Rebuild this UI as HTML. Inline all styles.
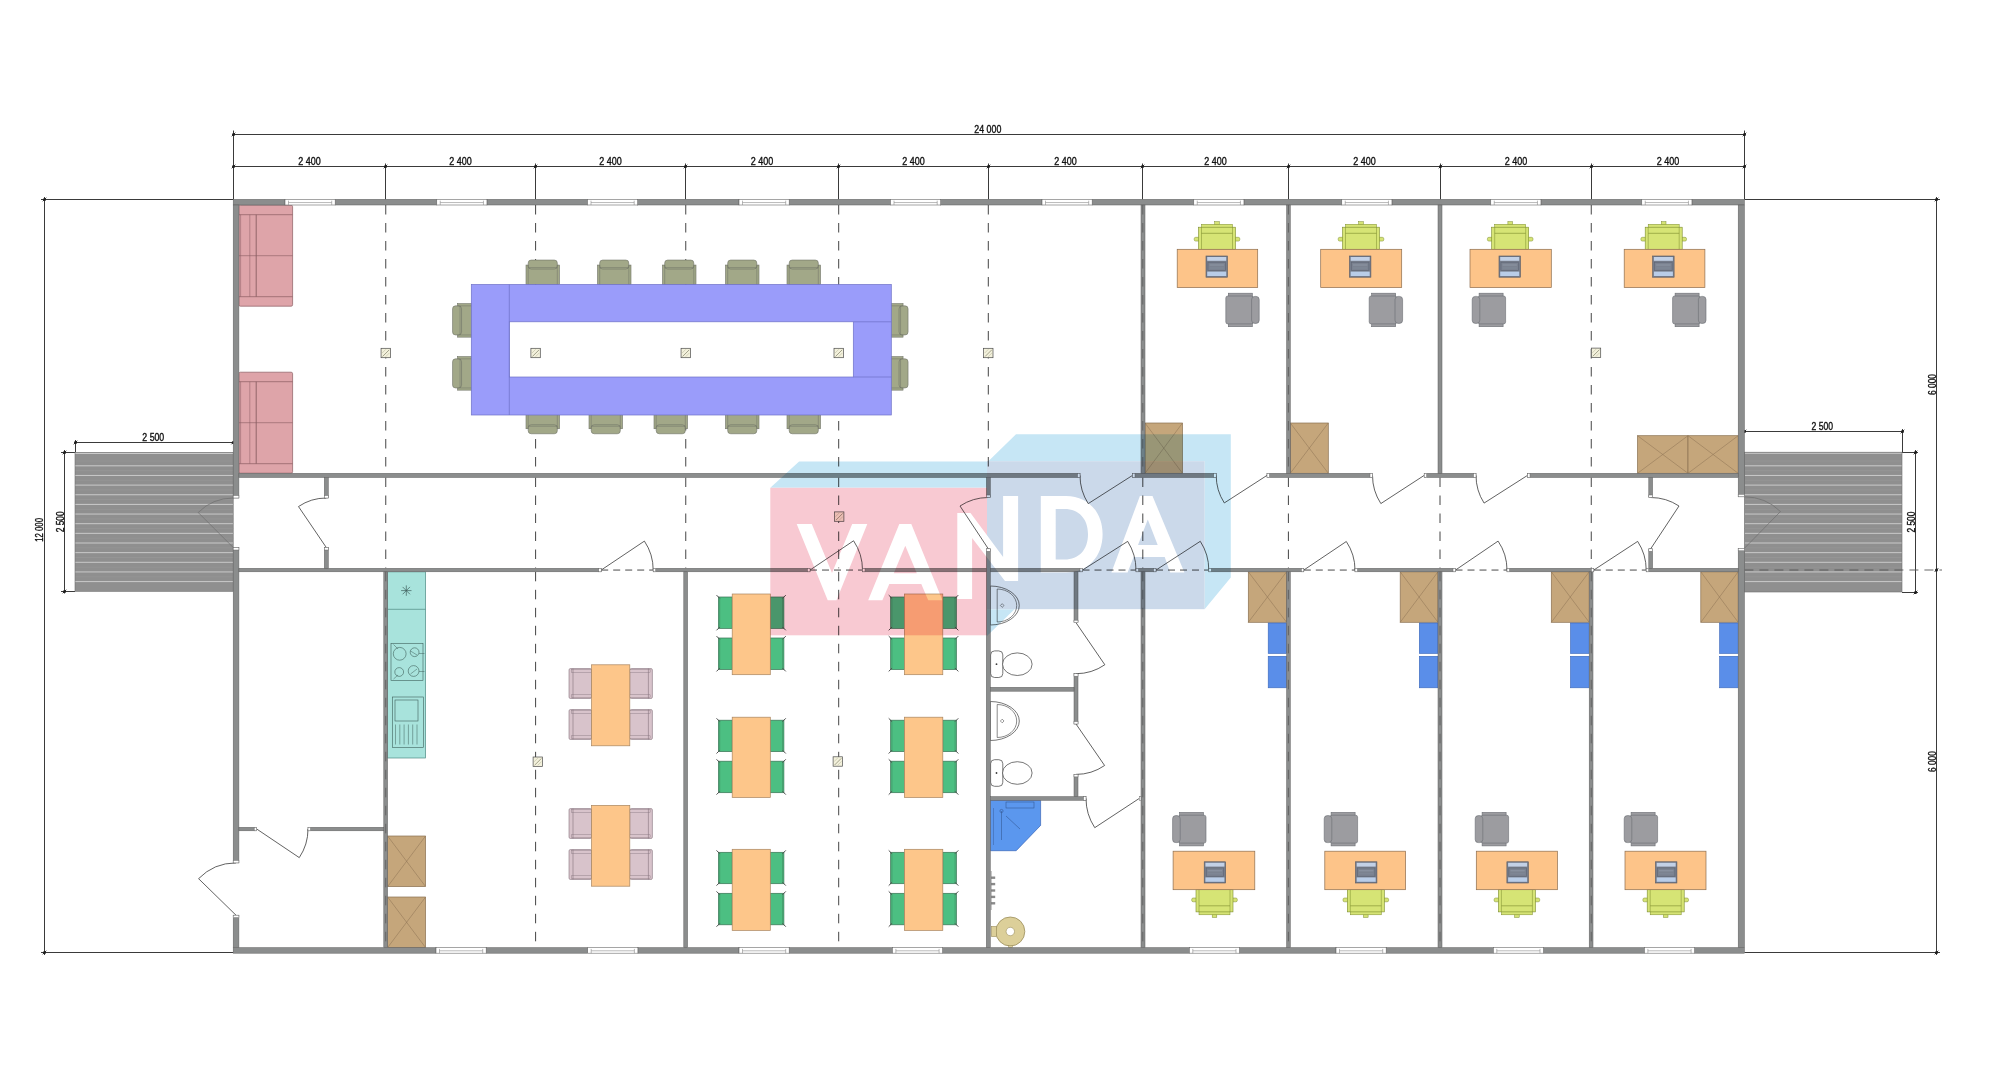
<!DOCTYPE html>
<html><head><meta charset="utf-8"><title>Floor plan</title>
<style>
html,body{margin:0;padding:0;background:#ffffff;}
body{width:2000px;height:1069px;overflow:hidden;}
svg{display:block;font-family:"Liberation Sans",sans-serif;}
.wm{mix-blend-mode:multiply;}
</style></head>
<body>
<svg width="2000" height="1069" viewBox="0 0 2000 1069">
<rect x="0" y="0" width="2000" height="1069" fill="#ffffff"/>
<g id="plan">
<line x1="233.5" y1="134.5" x2="1744.5" y2="134.5" stroke="#3a3a3a" stroke-width="1"/>
<line x1="233.5" y1="130.5" x2="233.5" y2="199.5" stroke="#3a3a3a" stroke-width="1"/>
<line x1="1744.5" y1="130.5" x2="1744.5" y2="199.5" stroke="#3a3a3a" stroke-width="1"/>
<circle cx="233.5" cy="134.5" r="1.5" fill="#1e1e1e"/>
<line x1="231.7" y1="136.3" x2="235.3" y2="132.7" stroke="#1e1e1e" stroke-width="0.9"/>
<circle cx="1744.5" cy="134.5" r="1.5" fill="#1e1e1e"/>
<line x1="1742.7" y1="136.3" x2="1746.3" y2="132.7" stroke="#1e1e1e" stroke-width="0.9"/>
<text x="987.8" y="133" font-size="10" text-anchor="middle" fill="#111" stroke="#111" stroke-width="0.35" textLength="27" lengthAdjust="spacingAndGlyphs">24 000</text>
<line x1="233.5" y1="166.5" x2="1744.5" y2="166.5" stroke="#3a3a3a" stroke-width="1"/>
<circle cx="233.5" cy="166.5" r="1.5" fill="#1e1e1e"/>
<line x1="231.7" y1="168.3" x2="235.3" y2="164.7" stroke="#1e1e1e" stroke-width="0.9"/>
<line x1="385.5" y1="163.5" x2="385.5" y2="199.5" stroke="#3a3a3a" stroke-width="1"/>
<circle cx="385.5" cy="166.5" r="1.5" fill="#1e1e1e"/>
<line x1="383.7" y1="168.3" x2="387.3" y2="164.7" stroke="#1e1e1e" stroke-width="0.9"/>
<line x1="535.5" y1="163.5" x2="535.5" y2="199.5" stroke="#3a3a3a" stroke-width="1"/>
<circle cx="535.5" cy="166.5" r="1.5" fill="#1e1e1e"/>
<line x1="533.7" y1="168.3" x2="537.3" y2="164.7" stroke="#1e1e1e" stroke-width="0.9"/>
<line x1="685.5" y1="163.5" x2="685.5" y2="199.5" stroke="#3a3a3a" stroke-width="1"/>
<circle cx="685.5" cy="166.5" r="1.5" fill="#1e1e1e"/>
<line x1="683.7" y1="168.3" x2="687.3" y2="164.7" stroke="#1e1e1e" stroke-width="0.9"/>
<line x1="838.5" y1="163.5" x2="838.5" y2="199.5" stroke="#3a3a3a" stroke-width="1"/>
<circle cx="838.5" cy="166.5" r="1.5" fill="#1e1e1e"/>
<line x1="836.7" y1="168.3" x2="840.3" y2="164.7" stroke="#1e1e1e" stroke-width="0.9"/>
<line x1="988.5" y1="163.5" x2="988.5" y2="199.5" stroke="#3a3a3a" stroke-width="1"/>
<circle cx="988.5" cy="166.5" r="1.5" fill="#1e1e1e"/>
<line x1="986.7" y1="168.3" x2="990.3" y2="164.7" stroke="#1e1e1e" stroke-width="0.9"/>
<line x1="1142.5" y1="163.5" x2="1142.5" y2="199.5" stroke="#3a3a3a" stroke-width="1"/>
<circle cx="1142.5" cy="166.5" r="1.5" fill="#1e1e1e"/>
<line x1="1140.7" y1="168.3" x2="1144.3" y2="164.7" stroke="#1e1e1e" stroke-width="0.9"/>
<line x1="1288.5" y1="163.5" x2="1288.5" y2="199.5" stroke="#3a3a3a" stroke-width="1"/>
<circle cx="1288.5" cy="166.5" r="1.5" fill="#1e1e1e"/>
<line x1="1286.7" y1="168.3" x2="1290.3" y2="164.7" stroke="#1e1e1e" stroke-width="0.9"/>
<line x1="1440.5" y1="163.5" x2="1440.5" y2="199.5" stroke="#3a3a3a" stroke-width="1"/>
<circle cx="1440.5" cy="166.5" r="1.5" fill="#1e1e1e"/>
<line x1="1438.7" y1="168.3" x2="1442.3" y2="164.7" stroke="#1e1e1e" stroke-width="0.9"/>
<line x1="1591.5" y1="163.5" x2="1591.5" y2="199.5" stroke="#3a3a3a" stroke-width="1"/>
<circle cx="1591.5" cy="166.5" r="1.5" fill="#1e1e1e"/>
<line x1="1589.7" y1="168.3" x2="1593.3" y2="164.7" stroke="#1e1e1e" stroke-width="0.9"/>
<circle cx="1744.5" cy="166.5" r="1.5" fill="#1e1e1e"/>
<line x1="1742.7" y1="168.3" x2="1746.3" y2="164.7" stroke="#1e1e1e" stroke-width="0.9"/>
<text x="309.5" y="165.4" font-size="10" text-anchor="middle" fill="#111" stroke="#111" stroke-width="0.35" textLength="22.5" lengthAdjust="spacingAndGlyphs">2 400</text>
<text x="460.5" y="165.4" font-size="10" text-anchor="middle" fill="#111" stroke="#111" stroke-width="0.35" textLength="22.5" lengthAdjust="spacingAndGlyphs">2 400</text>
<text x="610.5" y="165.4" font-size="10" text-anchor="middle" fill="#111" stroke="#111" stroke-width="0.35" textLength="22.5" lengthAdjust="spacingAndGlyphs">2 400</text>
<text x="762" y="165.4" font-size="10" text-anchor="middle" fill="#111" stroke="#111" stroke-width="0.35" textLength="22.5" lengthAdjust="spacingAndGlyphs">2 400</text>
<text x="913.5" y="165.4" font-size="10" text-anchor="middle" fill="#111" stroke="#111" stroke-width="0.35" textLength="22.5" lengthAdjust="spacingAndGlyphs">2 400</text>
<text x="1065.5" y="165.4" font-size="10" text-anchor="middle" fill="#111" stroke="#111" stroke-width="0.35" textLength="22.5" lengthAdjust="spacingAndGlyphs">2 400</text>
<text x="1215.5" y="165.4" font-size="10" text-anchor="middle" fill="#111" stroke="#111" stroke-width="0.35" textLength="22.5" lengthAdjust="spacingAndGlyphs">2 400</text>
<text x="1364.5" y="165.4" font-size="10" text-anchor="middle" fill="#111" stroke="#111" stroke-width="0.35" textLength="22.5" lengthAdjust="spacingAndGlyphs">2 400</text>
<text x="1516" y="165.4" font-size="10" text-anchor="middle" fill="#111" stroke="#111" stroke-width="0.35" textLength="22.5" lengthAdjust="spacingAndGlyphs">2 400</text>
<text x="1668" y="165.4" font-size="10" text-anchor="middle" fill="#111" stroke="#111" stroke-width="0.35" textLength="22.5" lengthAdjust="spacingAndGlyphs">2 400</text>
<line x1="44.5" y1="197" x2="44.5" y2="955" stroke="#3a3a3a" stroke-width="1"/>
<line x1="41" y1="199.5" x2="233.2" y2="199.5" stroke="#3a3a3a" stroke-width="1"/>
<line x1="41" y1="952.5" x2="233.2" y2="952.5" stroke="#3a3a3a" stroke-width="1"/>
<circle cx="44.5" cy="199.5" r="1.5" fill="#1e1e1e"/>
<line x1="42.7" y1="201.3" x2="46.3" y2="197.7" stroke="#1e1e1e" stroke-width="0.9"/>
<circle cx="44.5" cy="952.5" r="1.5" fill="#1e1e1e"/>
<line x1="42.7" y1="954.3" x2="46.3" y2="950.7" stroke="#1e1e1e" stroke-width="0.9"/>
<text x="0" y="0" font-size="10" text-anchor="middle" fill="#111" stroke="#111" stroke-width="0.35" textLength="23.8" lengthAdjust="spacingAndGlyphs" transform="translate(43.4 529.9) rotate(-90)">12 000</text>
<line x1="75.5" y1="442.5" x2="233.2" y2="442.5" stroke="#3a3a3a" stroke-width="1"/>
<line x1="75.5" y1="440" x2="75.5" y2="452.4" stroke="#3a3a3a" stroke-width="1"/>
<circle cx="75.5" cy="442.5" r="1.5" fill="#1e1e1e"/>
<line x1="73.7" y1="444.3" x2="77.3" y2="440.7" stroke="#1e1e1e" stroke-width="0.9"/>
<circle cx="233.2" cy="442.5" r="1.5" fill="#1e1e1e"/>
<line x1="231.4" y1="444.3" x2="235" y2="440.7" stroke="#1e1e1e" stroke-width="0.9"/>
<text x="153.3" y="441" font-size="10" text-anchor="middle" fill="#111" stroke="#111" stroke-width="0.35" textLength="21.9" lengthAdjust="spacingAndGlyphs">2 500</text>
<line x1="64.5" y1="450" x2="64.5" y2="593.5" stroke="#3a3a3a" stroke-width="1"/>
<line x1="61" y1="452.5" x2="75" y2="452.5" stroke="#3a3a3a" stroke-width="1"/>
<line x1="61" y1="591.5" x2="75" y2="591.5" stroke="#3a3a3a" stroke-width="1"/>
<circle cx="64.5" cy="452.5" r="1.5" fill="#1e1e1e"/>
<line x1="62.7" y1="454.3" x2="66.3" y2="450.7" stroke="#1e1e1e" stroke-width="0.9"/>
<circle cx="64.5" cy="591.5" r="1.5" fill="#1e1e1e"/>
<line x1="62.7" y1="593.3" x2="66.3" y2="589.7" stroke="#1e1e1e" stroke-width="0.9"/>
<text x="0" y="0" font-size="10" text-anchor="middle" fill="#111" stroke="#111" stroke-width="0.35" textLength="21.1" lengthAdjust="spacingAndGlyphs" transform="translate(63.9 521.8) rotate(-90)">2 500</text>
<line x1="1936.5" y1="197" x2="1936.5" y2="955" stroke="#3a3a3a" stroke-width="1"/>
<line x1="1744.4" y1="199.5" x2="1940" y2="199.5" stroke="#3a3a3a" stroke-width="1"/>
<line x1="1744.4" y1="952.5" x2="1940" y2="952.5" stroke="#3a3a3a" stroke-width="1"/>
<circle cx="1936.5" cy="199.5" r="1.5" fill="#1e1e1e"/>
<line x1="1934.7" y1="201.3" x2="1938.3" y2="197.7" stroke="#1e1e1e" stroke-width="0.9"/>
<circle cx="1936.5" cy="952.5" r="1.5" fill="#1e1e1e"/>
<line x1="1934.7" y1="954.3" x2="1938.3" y2="950.7" stroke="#1e1e1e" stroke-width="0.9"/>
<circle cx="1936.5" cy="570" r="1.5" fill="#1e1e1e"/>
<line x1="1934.7" y1="571.8" x2="1938.3" y2="568.2" stroke="#1e1e1e" stroke-width="0.9"/>
<text x="0" y="0" font-size="10" text-anchor="middle" fill="#111" stroke="#111" stroke-width="0.35" textLength="21" lengthAdjust="spacingAndGlyphs" transform="translate(1936 384.5) rotate(-90)">6 000</text>
<text x="0" y="0" font-size="10" text-anchor="middle" fill="#111" stroke="#111" stroke-width="0.35" textLength="20.8" lengthAdjust="spacingAndGlyphs" transform="translate(1936 761.6) rotate(-90)">6 000</text>
<line x1="1744.4" y1="431.5" x2="1902.5" y2="431.5" stroke="#3a3a3a" stroke-width="1"/>
<line x1="1902.5" y1="429" x2="1902.5" y2="452.2" stroke="#3a3a3a" stroke-width="1"/>
<circle cx="1744.5" cy="431.5" r="1.5" fill="#1e1e1e"/>
<line x1="1742.7" y1="433.3" x2="1746.3" y2="429.7" stroke="#1e1e1e" stroke-width="0.9"/>
<circle cx="1902.5" cy="431.5" r="1.5" fill="#1e1e1e"/>
<line x1="1900.7" y1="433.3" x2="1904.3" y2="429.7" stroke="#1e1e1e" stroke-width="0.9"/>
<text x="1822.3" y="430" font-size="10" text-anchor="middle" fill="#111" stroke="#111" stroke-width="0.35" textLength="21.5" lengthAdjust="spacingAndGlyphs">2 500</text>
<line x1="1915.5" y1="450" x2="1915.5" y2="594" stroke="#3a3a3a" stroke-width="1"/>
<line x1="1902" y1="452.5" x2="1918" y2="452.5" stroke="#3a3a3a" stroke-width="1"/>
<line x1="1902" y1="592.5" x2="1918" y2="592.5" stroke="#3a3a3a" stroke-width="1"/>
<circle cx="1915.5" cy="452.5" r="1.5" fill="#1e1e1e"/>
<line x1="1913.7" y1="454.3" x2="1917.3" y2="450.7" stroke="#1e1e1e" stroke-width="0.9"/>
<circle cx="1915.5" cy="592.5" r="1.5" fill="#1e1e1e"/>
<line x1="1913.7" y1="594.3" x2="1917.3" y2="590.7" stroke="#1e1e1e" stroke-width="0.9"/>
<text x="0" y="0" font-size="10" text-anchor="middle" fill="#111" stroke="#111" stroke-width="0.35" textLength="21" lengthAdjust="spacingAndGlyphs" transform="translate(1914.8 522.1) rotate(-90)">2 500</text>
<rect x="75" y="452.4" width="158.2" height="138.9" fill="#8f8f8f" stroke="none" stroke-width="0.6"/>
<line x1="75" y1="453.4" x2="233.2" y2="453.4" stroke="#d2d2d2" stroke-width="1"/>
<line x1="75" y1="465.8" x2="233.2" y2="465.8" stroke="#d0d0d0" stroke-width="0.9"/>
<line x1="75" y1="461" x2="233.2" y2="461" stroke="#989898" stroke-width="0.6"/>
<line x1="75" y1="475.45" x2="233.2" y2="475.45" stroke="#d0d0d0" stroke-width="0.9"/>
<line x1="75" y1="470.65" x2="233.2" y2="470.65" stroke="#989898" stroke-width="0.6"/>
<line x1="75" y1="485.1" x2="233.2" y2="485.1" stroke="#d0d0d0" stroke-width="0.9"/>
<line x1="75" y1="480.3" x2="233.2" y2="480.3" stroke="#989898" stroke-width="0.6"/>
<line x1="75" y1="494.75" x2="233.2" y2="494.75" stroke="#d0d0d0" stroke-width="0.9"/>
<line x1="75" y1="489.95" x2="233.2" y2="489.95" stroke="#989898" stroke-width="0.6"/>
<line x1="75" y1="504.4" x2="233.2" y2="504.4" stroke="#d0d0d0" stroke-width="0.9"/>
<line x1="75" y1="499.6" x2="233.2" y2="499.6" stroke="#989898" stroke-width="0.6"/>
<line x1="75" y1="514.05" x2="233.2" y2="514.05" stroke="#d0d0d0" stroke-width="0.9"/>
<line x1="75" y1="509.25" x2="233.2" y2="509.25" stroke="#989898" stroke-width="0.6"/>
<line x1="75" y1="523.7" x2="233.2" y2="523.7" stroke="#d0d0d0" stroke-width="0.9"/>
<line x1="75" y1="518.9" x2="233.2" y2="518.9" stroke="#989898" stroke-width="0.6"/>
<line x1="75" y1="533.35" x2="233.2" y2="533.35" stroke="#d0d0d0" stroke-width="0.9"/>
<line x1="75" y1="528.55" x2="233.2" y2="528.55" stroke="#989898" stroke-width="0.6"/>
<line x1="75" y1="543" x2="233.2" y2="543" stroke="#d0d0d0" stroke-width="0.9"/>
<line x1="75" y1="538.2" x2="233.2" y2="538.2" stroke="#989898" stroke-width="0.6"/>
<line x1="75" y1="552.65" x2="233.2" y2="552.65" stroke="#d0d0d0" stroke-width="0.9"/>
<line x1="75" y1="547.85" x2="233.2" y2="547.85" stroke="#989898" stroke-width="0.6"/>
<line x1="75" y1="562.3" x2="233.2" y2="562.3" stroke="#d0d0d0" stroke-width="0.9"/>
<line x1="75" y1="557.5" x2="233.2" y2="557.5" stroke="#989898" stroke-width="0.6"/>
<line x1="75" y1="571.95" x2="233.2" y2="571.95" stroke="#d0d0d0" stroke-width="0.9"/>
<line x1="75" y1="567.15" x2="233.2" y2="567.15" stroke="#989898" stroke-width="0.6"/>
<line x1="75" y1="581.6" x2="233.2" y2="581.6" stroke="#d0d0d0" stroke-width="0.9"/>
<line x1="75" y1="576.8" x2="233.2" y2="576.8" stroke="#989898" stroke-width="0.6"/>
<rect x="75" y="452.4" width="158.2" height="138.9" fill="none" stroke="#6f6f6f" stroke-width="0.6"/>
<rect x="1744.4" y="452.2" width="157.6" height="139.8" fill="#8f8f8f" stroke="none" stroke-width="0.6"/>
<line x1="1744.4" y1="453.2" x2="1902" y2="453.2" stroke="#d2d2d2" stroke-width="1"/>
<line x1="1744.4" y1="465.8" x2="1902" y2="465.8" stroke="#d0d0d0" stroke-width="0.9"/>
<line x1="1744.4" y1="461" x2="1902" y2="461" stroke="#989898" stroke-width="0.6"/>
<line x1="1744.4" y1="475.45" x2="1902" y2="475.45" stroke="#d0d0d0" stroke-width="0.9"/>
<line x1="1744.4" y1="470.65" x2="1902" y2="470.65" stroke="#989898" stroke-width="0.6"/>
<line x1="1744.4" y1="485.1" x2="1902" y2="485.1" stroke="#d0d0d0" stroke-width="0.9"/>
<line x1="1744.4" y1="480.3" x2="1902" y2="480.3" stroke="#989898" stroke-width="0.6"/>
<line x1="1744.4" y1="494.75" x2="1902" y2="494.75" stroke="#d0d0d0" stroke-width="0.9"/>
<line x1="1744.4" y1="489.95" x2="1902" y2="489.95" stroke="#989898" stroke-width="0.6"/>
<line x1="1744.4" y1="504.4" x2="1902" y2="504.4" stroke="#d0d0d0" stroke-width="0.9"/>
<line x1="1744.4" y1="499.6" x2="1902" y2="499.6" stroke="#989898" stroke-width="0.6"/>
<line x1="1744.4" y1="514.05" x2="1902" y2="514.05" stroke="#d0d0d0" stroke-width="0.9"/>
<line x1="1744.4" y1="509.25" x2="1902" y2="509.25" stroke="#989898" stroke-width="0.6"/>
<line x1="1744.4" y1="523.7" x2="1902" y2="523.7" stroke="#d0d0d0" stroke-width="0.9"/>
<line x1="1744.4" y1="518.9" x2="1902" y2="518.9" stroke="#989898" stroke-width="0.6"/>
<line x1="1744.4" y1="533.35" x2="1902" y2="533.35" stroke="#d0d0d0" stroke-width="0.9"/>
<line x1="1744.4" y1="528.55" x2="1902" y2="528.55" stroke="#989898" stroke-width="0.6"/>
<line x1="1744.4" y1="543" x2="1902" y2="543" stroke="#d0d0d0" stroke-width="0.9"/>
<line x1="1744.4" y1="538.2" x2="1902" y2="538.2" stroke="#989898" stroke-width="0.6"/>
<line x1="1744.4" y1="552.65" x2="1902" y2="552.65" stroke="#d0d0d0" stroke-width="0.9"/>
<line x1="1744.4" y1="547.85" x2="1902" y2="547.85" stroke="#989898" stroke-width="0.6"/>
<line x1="1744.4" y1="562.3" x2="1902" y2="562.3" stroke="#d0d0d0" stroke-width="0.9"/>
<line x1="1744.4" y1="557.5" x2="1902" y2="557.5" stroke="#989898" stroke-width="0.6"/>
<line x1="1744.4" y1="571.95" x2="1902" y2="571.95" stroke="#d0d0d0" stroke-width="0.9"/>
<line x1="1744.4" y1="567.15" x2="1902" y2="567.15" stroke="#989898" stroke-width="0.6"/>
<line x1="1744.4" y1="581.6" x2="1902" y2="581.6" stroke="#d0d0d0" stroke-width="0.9"/>
<line x1="1744.4" y1="576.8" x2="1902" y2="576.8" stroke="#989898" stroke-width="0.6"/>
<rect x="1744.4" y="452.2" width="157.6" height="139.8" fill="none" stroke="#6f6f6f" stroke-width="0.6"/>
<line x1="1744.4" y1="570" x2="1942" y2="570" stroke="#555" stroke-width="0.9" stroke-dasharray="9 6"/>
<line x1="385.75" y1="205" x2="385.75" y2="473.3" stroke="#444444" stroke-width="1" stroke-dasharray="9.5 8.5"/>
<line x1="535.6" y1="205" x2="535.6" y2="473.3" stroke="#444444" stroke-width="1" stroke-dasharray="9.5 8.5"/>
<line x1="685.75" y1="205" x2="685.75" y2="473.3" stroke="#444444" stroke-width="1" stroke-dasharray="9.5 8.5"/>
<line x1="838.7" y1="205" x2="838.7" y2="473.3" stroke="#444444" stroke-width="1" stroke-dasharray="9.5 8.5"/>
<line x1="988.3" y1="205" x2="988.3" y2="473.3" stroke="#444444" stroke-width="1" stroke-dasharray="9.5 8.5"/>
<line x1="385.75" y1="477.5" x2="385.75" y2="568.3" stroke="#444444" stroke-width="1" stroke-dasharray="9.5 8.5"/>
<line x1="535.6" y1="477.5" x2="535.6" y2="568.3" stroke="#444444" stroke-width="1" stroke-dasharray="9.5 8.5"/>
<line x1="685.75" y1="477.5" x2="685.75" y2="568.3" stroke="#444444" stroke-width="1" stroke-dasharray="9.5 8.5"/>
<line x1="838.7" y1="477.5" x2="838.7" y2="568.3" stroke="#444444" stroke-width="1" stroke-dasharray="9.5 8.5"/>
<line x1="1142.8" y1="477.5" x2="1142.8" y2="568.3" stroke="#444444" stroke-width="1" stroke-dasharray="9.5 8.5"/>
<line x1="1288.4" y1="477.5" x2="1288.4" y2="568.3" stroke="#444444" stroke-width="1" stroke-dasharray="9.5 8.5"/>
<line x1="1440" y1="477.5" x2="1440" y2="568.3" stroke="#444444" stroke-width="1" stroke-dasharray="9.5 8.5"/>
<line x1="1591.25" y1="477.5" x2="1591.25" y2="568.3" stroke="#444444" stroke-width="1" stroke-dasharray="9.5 8.5"/>
<line x1="1591.25" y1="205" x2="1591.25" y2="473.3" stroke="#444444" stroke-width="1" stroke-dasharray="9.5 8.5"/>
<line x1="535.6" y1="571.8" x2="535.6" y2="947.5" stroke="#444444" stroke-width="1" stroke-dasharray="9.5 8.5"/>
<line x1="838.7" y1="571.8" x2="838.7" y2="947.5" stroke="#444444" stroke-width="1" stroke-dasharray="9.5 8.5"/>
<g transform="translate(542.75 272.3)">
<rect x="-16.75" y="-7.25" width="33.5" height="19.5" fill="#a2a888" stroke="#6f7266" stroke-width="0.6"/>
<rect x="-14.55" y="-12.25" width="29.1" height="9" fill="#a2a888" stroke="#6f7266" stroke-width="0.6" rx="3"/>
<line x1="-14.55" y1="-7.25" x2="-14.55" y2="12.25" stroke="#6f7266" stroke-width="0.5"/>
<line x1="14.55" y1="-7.25" x2="14.55" y2="12.25" stroke="#6f7266" stroke-width="0.5"/>
<line x1="-14.55" y1="-4.75" x2="14.55" y2="-4.75" stroke="#6f7266" stroke-width="0.5"/>
</g>
<g transform="translate(614.25 272.3)">
<rect x="-16.75" y="-7.25" width="33.5" height="19.5" fill="#a2a888" stroke="#6f7266" stroke-width="0.6"/>
<rect x="-14.55" y="-12.25" width="29.1" height="9" fill="#a2a888" stroke="#6f7266" stroke-width="0.6" rx="3"/>
<line x1="-14.55" y1="-7.25" x2="-14.55" y2="12.25" stroke="#6f7266" stroke-width="0.5"/>
<line x1="14.55" y1="-7.25" x2="14.55" y2="12.25" stroke="#6f7266" stroke-width="0.5"/>
<line x1="-14.55" y1="-4.75" x2="14.55" y2="-4.75" stroke="#6f7266" stroke-width="0.5"/>
</g>
<g transform="translate(679.25 272.3)">
<rect x="-16.75" y="-7.25" width="33.5" height="19.5" fill="#a2a888" stroke="#6f7266" stroke-width="0.6"/>
<rect x="-14.55" y="-12.25" width="29.1" height="9" fill="#a2a888" stroke="#6f7266" stroke-width="0.6" rx="3"/>
<line x1="-14.55" y1="-7.25" x2="-14.55" y2="12.25" stroke="#6f7266" stroke-width="0.5"/>
<line x1="14.55" y1="-7.25" x2="14.55" y2="12.25" stroke="#6f7266" stroke-width="0.5"/>
<line x1="-14.55" y1="-4.75" x2="14.55" y2="-4.75" stroke="#6f7266" stroke-width="0.5"/>
</g>
<g transform="translate(742.25 272.3)">
<rect x="-16.75" y="-7.25" width="33.5" height="19.5" fill="#a2a888" stroke="#6f7266" stroke-width="0.6"/>
<rect x="-14.55" y="-12.25" width="29.1" height="9" fill="#a2a888" stroke="#6f7266" stroke-width="0.6" rx="3"/>
<line x1="-14.55" y1="-7.25" x2="-14.55" y2="12.25" stroke="#6f7266" stroke-width="0.5"/>
<line x1="14.55" y1="-7.25" x2="14.55" y2="12.25" stroke="#6f7266" stroke-width="0.5"/>
<line x1="-14.55" y1="-4.75" x2="14.55" y2="-4.75" stroke="#6f7266" stroke-width="0.5"/>
</g>
<g transform="translate(803.75 272.3)">
<rect x="-16.75" y="-7.25" width="33.5" height="19.5" fill="#a2a888" stroke="#6f7266" stroke-width="0.6"/>
<rect x="-14.55" y="-12.25" width="29.1" height="9" fill="#a2a888" stroke="#6f7266" stroke-width="0.6" rx="3"/>
<line x1="-14.55" y1="-7.25" x2="-14.55" y2="12.25" stroke="#6f7266" stroke-width="0.5"/>
<line x1="14.55" y1="-7.25" x2="14.55" y2="12.25" stroke="#6f7266" stroke-width="0.5"/>
<line x1="-14.55" y1="-4.75" x2="14.55" y2="-4.75" stroke="#6f7266" stroke-width="0.5"/>
</g>
<g transform="translate(542.75 421.5) rotate(180)">
<rect x="-16.75" y="-7.25" width="33.5" height="19.5" fill="#a2a888" stroke="#6f7266" stroke-width="0.6"/>
<rect x="-14.55" y="-12.25" width="29.1" height="9" fill="#a2a888" stroke="#6f7266" stroke-width="0.6" rx="3"/>
<line x1="-14.55" y1="-7.25" x2="-14.55" y2="12.25" stroke="#6f7266" stroke-width="0.5"/>
<line x1="14.55" y1="-7.25" x2="14.55" y2="12.25" stroke="#6f7266" stroke-width="0.5"/>
<line x1="-14.55" y1="-4.75" x2="14.55" y2="-4.75" stroke="#6f7266" stroke-width="0.5"/>
</g>
<g transform="translate(605.75 421.5) rotate(180)">
<rect x="-16.75" y="-7.25" width="33.5" height="19.5" fill="#a2a888" stroke="#6f7266" stroke-width="0.6"/>
<rect x="-14.55" y="-12.25" width="29.1" height="9" fill="#a2a888" stroke="#6f7266" stroke-width="0.6" rx="3"/>
<line x1="-14.55" y1="-7.25" x2="-14.55" y2="12.25" stroke="#6f7266" stroke-width="0.5"/>
<line x1="14.55" y1="-7.25" x2="14.55" y2="12.25" stroke="#6f7266" stroke-width="0.5"/>
<line x1="-14.55" y1="-4.75" x2="14.55" y2="-4.75" stroke="#6f7266" stroke-width="0.5"/>
</g>
<g transform="translate(670.75 421.5) rotate(180)">
<rect x="-16.75" y="-7.25" width="33.5" height="19.5" fill="#a2a888" stroke="#6f7266" stroke-width="0.6"/>
<rect x="-14.55" y="-12.25" width="29.1" height="9" fill="#a2a888" stroke="#6f7266" stroke-width="0.6" rx="3"/>
<line x1="-14.55" y1="-7.25" x2="-14.55" y2="12.25" stroke="#6f7266" stroke-width="0.5"/>
<line x1="14.55" y1="-7.25" x2="14.55" y2="12.25" stroke="#6f7266" stroke-width="0.5"/>
<line x1="-14.55" y1="-4.75" x2="14.55" y2="-4.75" stroke="#6f7266" stroke-width="0.5"/>
</g>
<g transform="translate(742.25 421.5) rotate(180)">
<rect x="-16.75" y="-7.25" width="33.5" height="19.5" fill="#a2a888" stroke="#6f7266" stroke-width="0.6"/>
<rect x="-14.55" y="-12.25" width="29.1" height="9" fill="#a2a888" stroke="#6f7266" stroke-width="0.6" rx="3"/>
<line x1="-14.55" y1="-7.25" x2="-14.55" y2="12.25" stroke="#6f7266" stroke-width="0.5"/>
<line x1="14.55" y1="-7.25" x2="14.55" y2="12.25" stroke="#6f7266" stroke-width="0.5"/>
<line x1="-14.55" y1="-4.75" x2="14.55" y2="-4.75" stroke="#6f7266" stroke-width="0.5"/>
</g>
<g transform="translate(803.75 421.5) rotate(180)">
<rect x="-16.75" y="-7.25" width="33.5" height="19.5" fill="#a2a888" stroke="#6f7266" stroke-width="0.6"/>
<rect x="-14.55" y="-12.25" width="29.1" height="9" fill="#a2a888" stroke="#6f7266" stroke-width="0.6" rx="3"/>
<line x1="-14.55" y1="-7.25" x2="-14.55" y2="12.25" stroke="#6f7266" stroke-width="0.5"/>
<line x1="14.55" y1="-7.25" x2="14.55" y2="12.25" stroke="#6f7266" stroke-width="0.5"/>
<line x1="-14.55" y1="-4.75" x2="14.55" y2="-4.75" stroke="#6f7266" stroke-width="0.5"/>
</g>
<g transform="translate(464.8 320.4) rotate(-90)">
<rect x="-16.75" y="-7.25" width="33.5" height="19.5" fill="#a2a888" stroke="#6f7266" stroke-width="0.6"/>
<rect x="-14.55" y="-12.25" width="29.1" height="9" fill="#a2a888" stroke="#6f7266" stroke-width="0.6" rx="3"/>
<line x1="-14.55" y1="-7.25" x2="-14.55" y2="12.25" stroke="#6f7266" stroke-width="0.5"/>
<line x1="14.55" y1="-7.25" x2="14.55" y2="12.25" stroke="#6f7266" stroke-width="0.5"/>
<line x1="-14.55" y1="-4.75" x2="14.55" y2="-4.75" stroke="#6f7266" stroke-width="0.5"/>
</g>
<g transform="translate(895.8 320.4) rotate(90)">
<rect x="-16.75" y="-7.25" width="33.5" height="19.5" fill="#a2a888" stroke="#6f7266" stroke-width="0.6"/>
<rect x="-14.55" y="-12.25" width="29.1" height="9" fill="#a2a888" stroke="#6f7266" stroke-width="0.6" rx="3"/>
<line x1="-14.55" y1="-7.25" x2="-14.55" y2="12.25" stroke="#6f7266" stroke-width="0.5"/>
<line x1="14.55" y1="-7.25" x2="14.55" y2="12.25" stroke="#6f7266" stroke-width="0.5"/>
<line x1="-14.55" y1="-4.75" x2="14.55" y2="-4.75" stroke="#6f7266" stroke-width="0.5"/>
</g>
<g transform="translate(464.8 373.4) rotate(-90)">
<rect x="-16.75" y="-7.25" width="33.5" height="19.5" fill="#a2a888" stroke="#6f7266" stroke-width="0.6"/>
<rect x="-14.55" y="-12.25" width="29.1" height="9" fill="#a2a888" stroke="#6f7266" stroke-width="0.6" rx="3"/>
<line x1="-14.55" y1="-7.25" x2="-14.55" y2="12.25" stroke="#6f7266" stroke-width="0.5"/>
<line x1="14.55" y1="-7.25" x2="14.55" y2="12.25" stroke="#6f7266" stroke-width="0.5"/>
<line x1="-14.55" y1="-4.75" x2="14.55" y2="-4.75" stroke="#6f7266" stroke-width="0.5"/>
</g>
<g transform="translate(895.8 373.4) rotate(90)">
<rect x="-16.75" y="-7.25" width="33.5" height="19.5" fill="#a2a888" stroke="#6f7266" stroke-width="0.6"/>
<rect x="-14.55" y="-12.25" width="29.1" height="9" fill="#a2a888" stroke="#6f7266" stroke-width="0.6" rx="3"/>
<line x1="-14.55" y1="-7.25" x2="-14.55" y2="12.25" stroke="#6f7266" stroke-width="0.5"/>
<line x1="14.55" y1="-7.25" x2="14.55" y2="12.25" stroke="#6f7266" stroke-width="0.5"/>
<line x1="-14.55" y1="-4.75" x2="14.55" y2="-4.75" stroke="#6f7266" stroke-width="0.5"/>
</g>
<rect x="471.3" y="284.5" width="420" height="130.5" fill="#9a9cfa" stroke="#6d70c6" stroke-width="0.7"/>
<rect x="509.3" y="321.8" width="344" height="55.2" fill="#ffffff" stroke="#6d70c6" stroke-width="0.7"/>
<line x1="509.3" y1="284.5" x2="509.3" y2="415" stroke="#6d70c6" stroke-width="0.7"/>
<line x1="853.3" y1="321.8" x2="891.3" y2="321.8" stroke="#6d70c6" stroke-width="0.7"/>
<line x1="853.3" y1="377" x2="891.3" y2="377" stroke="#6d70c6" stroke-width="0.7"/>
<rect x="238.9" y="205.2" width="53.7" height="101" fill="#dea4a9" stroke="#8a5d62" stroke-width="0.7" rx="1.5"/>
<line x1="238.9" y1="214.7" x2="292.6" y2="214.7" stroke="#8a5d62" stroke-width="0.7"/>
<line x1="238.9" y1="296.7" x2="292.6" y2="296.7" stroke="#8a5d62" stroke-width="0.7"/>
<line x1="240.6" y1="214.7" x2="240.6" y2="296.7" stroke="#8a5d62" stroke-width="0.5"/>
<line x1="249.8" y1="214.7" x2="249.8" y2="296.7" stroke="#8a5d62" stroke-width="0.5"/>
<line x1="256.2" y1="214.7" x2="256.2" y2="296.7" stroke="#8a5d62" stroke-width="0.9"/>
<line x1="238.9" y1="255.7" x2="292.6" y2="255.7" stroke="#8a5d62" stroke-width="0.6"/>
<rect x="238.9" y="372.2" width="53.7" height="101" fill="#dea4a9" stroke="#8a5d62" stroke-width="0.7" rx="1.5"/>
<line x1="238.9" y1="381.7" x2="292.6" y2="381.7" stroke="#8a5d62" stroke-width="0.7"/>
<line x1="238.9" y1="463.7" x2="292.6" y2="463.7" stroke="#8a5d62" stroke-width="0.7"/>
<line x1="240.6" y1="381.7" x2="240.6" y2="463.7" stroke="#8a5d62" stroke-width="0.5"/>
<line x1="249.8" y1="381.7" x2="249.8" y2="463.7" stroke="#8a5d62" stroke-width="0.5"/>
<line x1="256.2" y1="381.7" x2="256.2" y2="463.7" stroke="#8a5d62" stroke-width="0.9"/>
<line x1="238.9" y1="422.7" x2="292.6" y2="422.7" stroke="#8a5d62" stroke-width="0.6"/>
<g transform="translate(1198.5 221.7)">
<rect x="-4.3" y="15.6" width="6" height="3.8" fill="#d6e475" stroke="#7a8a2c" stroke-width="0.5" rx="1.5"/>
<rect x="35.3" y="15.6" width="6" height="3.8" fill="#d6e475" stroke="#7a8a2c" stroke-width="0.5" rx="1.5"/>
<rect x="16.2" y="0" width="4.6" height="3.2" fill="#d6e475" stroke="#7a8a2c" stroke-width="0.5"/>
<rect x="3" y="2.6" width="31" height="5" fill="#d6e475" stroke="#7a8a2c" stroke-width="0.5"/>
<rect x="0" y="5.5" width="37" height="22.2" fill="#d6e475" stroke="#7a8a2c" stroke-width="0.6"/>
<line x1="3" y1="5.5" x2="3" y2="27.7" stroke="#7a8a2c" stroke-width="0.5"/>
<line x1="34" y1="5.5" x2="34" y2="27.7" stroke="#7a8a2c" stroke-width="0.5"/>
<line x1="3" y1="11.6" x2="34" y2="11.6" stroke="#7a8a2c" stroke-width="0.6"/>
</g>
<rect x="1177.2" y="249.3" width="80.5" height="38.3" fill="#fdc489" stroke="#8d6d4e" stroke-width="0.7"/>
<g transform="translate(1206 256)">
<rect x="0" y="0" width="21.4" height="21.2" fill="#767d8b" stroke="#505664" stroke-width="0.6"/>
<rect x="1.2" y="1" width="19" height="3.8" fill="#c3d1e6" stroke="none" stroke-width="0.6"/>
<rect x="1.2" y="15.6" width="19" height="4.4" fill="#b9cde8" stroke="none" stroke-width="0.6"/>
<rect x="2" y="6.2" width="17.4" height="8.2" fill="#7b8290" stroke="#5a6170" stroke-width="0.5"/>
<line x1="3.5" y1="9" x2="17.9" y2="9" stroke="#9aa4b4" stroke-width="0.6"/>
<line x1="3.5" y1="12" x2="17.9" y2="12" stroke="#8590a2" stroke-width="0.5"/>
</g>
<g transform="translate(1225.8 293.2)">
<rect x="2.5" y="0" width="24" height="5" fill="#9c9ca0" stroke="#6a6d72" stroke-width="0.6"/>
<rect x="2.5" y="28.5" width="24" height="5" fill="#9c9ca0" stroke="#6a6d72" stroke-width="0.6"/>
<rect x="0" y="2.8" width="27.5" height="27.9" fill="#9c9ca0" stroke="#6a6d72" stroke-width="0.6" rx="2"/>
<rect x="25.8" y="3.2" width="7.6" height="27" fill="#9c9ca0" stroke="#6a6d72" stroke-width="0.6" rx="3.2"/>
</g>
<g transform="translate(1342.5 221.7)">
<rect x="-4.3" y="15.6" width="6" height="3.8" fill="#d6e475" stroke="#7a8a2c" stroke-width="0.5" rx="1.5"/>
<rect x="35.3" y="15.6" width="6" height="3.8" fill="#d6e475" stroke="#7a8a2c" stroke-width="0.5" rx="1.5"/>
<rect x="16.2" y="0" width="4.6" height="3.2" fill="#d6e475" stroke="#7a8a2c" stroke-width="0.5"/>
<rect x="3" y="2.6" width="31" height="5" fill="#d6e475" stroke="#7a8a2c" stroke-width="0.5"/>
<rect x="0" y="5.5" width="37" height="22.2" fill="#d6e475" stroke="#7a8a2c" stroke-width="0.6"/>
<line x1="3" y1="5.5" x2="3" y2="27.7" stroke="#7a8a2c" stroke-width="0.5"/>
<line x1="34" y1="5.5" x2="34" y2="27.7" stroke="#7a8a2c" stroke-width="0.5"/>
<line x1="3" y1="11.6" x2="34" y2="11.6" stroke="#7a8a2c" stroke-width="0.6"/>
</g>
<rect x="1320.7" y="249.3" width="81" height="38.3" fill="#fdc489" stroke="#8d6d4e" stroke-width="0.7"/>
<g transform="translate(1349.5 256)">
<rect x="0" y="0" width="21.4" height="21.2" fill="#767d8b" stroke="#505664" stroke-width="0.6"/>
<rect x="1.2" y="1" width="19" height="3.8" fill="#c3d1e6" stroke="none" stroke-width="0.6"/>
<rect x="1.2" y="15.6" width="19" height="4.4" fill="#b9cde8" stroke="none" stroke-width="0.6"/>
<rect x="2" y="6.2" width="17.4" height="8.2" fill="#7b8290" stroke="#5a6170" stroke-width="0.5"/>
<line x1="3.5" y1="9" x2="17.9" y2="9" stroke="#9aa4b4" stroke-width="0.6"/>
<line x1="3.5" y1="12" x2="17.9" y2="12" stroke="#8590a2" stroke-width="0.5"/>
</g>
<g transform="translate(1369.2 293.2)">
<rect x="2.5" y="0" width="24" height="5" fill="#9c9ca0" stroke="#6a6d72" stroke-width="0.6"/>
<rect x="2.5" y="28.5" width="24" height="5" fill="#9c9ca0" stroke="#6a6d72" stroke-width="0.6"/>
<rect x="0" y="2.8" width="27.5" height="27.9" fill="#9c9ca0" stroke="#6a6d72" stroke-width="0.6" rx="2"/>
<rect x="25.8" y="3.2" width="7.6" height="27" fill="#9c9ca0" stroke="#6a6d72" stroke-width="0.6" rx="3.2"/>
</g>
<g transform="translate(1491.7 221.7)">
<rect x="-4.3" y="15.6" width="6" height="3.8" fill="#d6e475" stroke="#7a8a2c" stroke-width="0.5" rx="1.5"/>
<rect x="35.3" y="15.6" width="6" height="3.8" fill="#d6e475" stroke="#7a8a2c" stroke-width="0.5" rx="1.5"/>
<rect x="16.2" y="0" width="4.6" height="3.2" fill="#d6e475" stroke="#7a8a2c" stroke-width="0.5"/>
<rect x="3" y="2.6" width="31" height="5" fill="#d6e475" stroke="#7a8a2c" stroke-width="0.5"/>
<rect x="0" y="5.5" width="37" height="22.2" fill="#d6e475" stroke="#7a8a2c" stroke-width="0.6"/>
<line x1="3" y1="5.5" x2="3" y2="27.7" stroke="#7a8a2c" stroke-width="0.5"/>
<line x1="34" y1="5.5" x2="34" y2="27.7" stroke="#7a8a2c" stroke-width="0.5"/>
<line x1="3" y1="11.6" x2="34" y2="11.6" stroke="#7a8a2c" stroke-width="0.6"/>
</g>
<rect x="1470" y="249.3" width="81.3" height="38.3" fill="#fdc489" stroke="#8d6d4e" stroke-width="0.7"/>
<g transform="translate(1499 256)">
<rect x="0" y="0" width="21.4" height="21.2" fill="#767d8b" stroke="#505664" stroke-width="0.6"/>
<rect x="1.2" y="1" width="19" height="3.8" fill="#c3d1e6" stroke="none" stroke-width="0.6"/>
<rect x="1.2" y="15.6" width="19" height="4.4" fill="#b9cde8" stroke="none" stroke-width="0.6"/>
<rect x="2" y="6.2" width="17.4" height="8.2" fill="#7b8290" stroke="#5a6170" stroke-width="0.5"/>
<line x1="3.5" y1="9" x2="17.9" y2="9" stroke="#9aa4b4" stroke-width="0.6"/>
<line x1="3.5" y1="12" x2="17.9" y2="12" stroke="#8590a2" stroke-width="0.5"/>
</g>
<g transform="translate(1505.6 293.2) scale(-1 1)">
<rect x="2.5" y="0" width="24" height="5" fill="#9c9ca0" stroke="#6a6d72" stroke-width="0.6"/>
<rect x="2.5" y="28.5" width="24" height="5" fill="#9c9ca0" stroke="#6a6d72" stroke-width="0.6"/>
<rect x="0" y="2.8" width="27.5" height="27.9" fill="#9c9ca0" stroke="#6a6d72" stroke-width="0.6" rx="2"/>
<rect x="25.8" y="3.2" width="7.6" height="27" fill="#9c9ca0" stroke="#6a6d72" stroke-width="0.6" rx="3.2"/>
</g>
<g transform="translate(1645.2 221.7)">
<rect x="-4.3" y="15.6" width="6" height="3.8" fill="#d6e475" stroke="#7a8a2c" stroke-width="0.5" rx="1.5"/>
<rect x="35.3" y="15.6" width="6" height="3.8" fill="#d6e475" stroke="#7a8a2c" stroke-width="0.5" rx="1.5"/>
<rect x="16.2" y="0" width="4.6" height="3.2" fill="#d6e475" stroke="#7a8a2c" stroke-width="0.5"/>
<rect x="3" y="2.6" width="31" height="5" fill="#d6e475" stroke="#7a8a2c" stroke-width="0.5"/>
<rect x="0" y="5.5" width="37" height="22.2" fill="#d6e475" stroke="#7a8a2c" stroke-width="0.6"/>
<line x1="3" y1="5.5" x2="3" y2="27.7" stroke="#7a8a2c" stroke-width="0.5"/>
<line x1="34" y1="5.5" x2="34" y2="27.7" stroke="#7a8a2c" stroke-width="0.5"/>
<line x1="3" y1="11.6" x2="34" y2="11.6" stroke="#7a8a2c" stroke-width="0.6"/>
</g>
<rect x="1624.2" y="249.3" width="80.7" height="38.3" fill="#fdc489" stroke="#8d6d4e" stroke-width="0.7"/>
<g transform="translate(1652.7 256)">
<rect x="0" y="0" width="21.4" height="21.2" fill="#767d8b" stroke="#505664" stroke-width="0.6"/>
<rect x="1.2" y="1" width="19" height="3.8" fill="#c3d1e6" stroke="none" stroke-width="0.6"/>
<rect x="1.2" y="15.6" width="19" height="4.4" fill="#b9cde8" stroke="none" stroke-width="0.6"/>
<rect x="2" y="6.2" width="17.4" height="8.2" fill="#7b8290" stroke="#5a6170" stroke-width="0.5"/>
<line x1="3.5" y1="9" x2="17.9" y2="9" stroke="#9aa4b4" stroke-width="0.6"/>
<line x1="3.5" y1="12" x2="17.9" y2="12" stroke="#8590a2" stroke-width="0.5"/>
</g>
<g transform="translate(1672.6 293.2)">
<rect x="2.5" y="0" width="24" height="5" fill="#9c9ca0" stroke="#6a6d72" stroke-width="0.6"/>
<rect x="2.5" y="28.5" width="24" height="5" fill="#9c9ca0" stroke="#6a6d72" stroke-width="0.6"/>
<rect x="0" y="2.8" width="27.5" height="27.9" fill="#9c9ca0" stroke="#6a6d72" stroke-width="0.6" rx="2"/>
<rect x="25.8" y="3.2" width="7.6" height="27" fill="#9c9ca0" stroke="#6a6d72" stroke-width="0.6" rx="3.2"/>
</g>
<g transform="translate(1206 812.4) scale(-1 1)">
<rect x="2.5" y="0" width="24" height="5" fill="#9c9ca0" stroke="#6a6d72" stroke-width="0.6"/>
<rect x="2.5" y="28.5" width="24" height="5" fill="#9c9ca0" stroke="#6a6d72" stroke-width="0.6"/>
<rect x="0" y="2.8" width="27.5" height="27.9" fill="#9c9ca0" stroke="#6a6d72" stroke-width="0.6" rx="2"/>
<rect x="25.8" y="3.2" width="7.6" height="27" fill="#9c9ca0" stroke="#6a6d72" stroke-width="0.6" rx="3.2"/>
</g>
<g transform="translate(1233 917.4) rotate(180)">
<rect x="-4.3" y="15.6" width="6" height="3.8" fill="#d6e475" stroke="#7a8a2c" stroke-width="0.5" rx="1.5"/>
<rect x="35.3" y="15.6" width="6" height="3.8" fill="#d6e475" stroke="#7a8a2c" stroke-width="0.5" rx="1.5"/>
<rect x="16.2" y="0" width="4.6" height="3.2" fill="#d6e475" stroke="#7a8a2c" stroke-width="0.5"/>
<rect x="3" y="2.6" width="31" height="5" fill="#d6e475" stroke="#7a8a2c" stroke-width="0.5"/>
<rect x="0" y="5.5" width="37" height="22.2" fill="#d6e475" stroke="#7a8a2c" stroke-width="0.6"/>
<line x1="3" y1="5.5" x2="3" y2="27.7" stroke="#7a8a2c" stroke-width="0.5"/>
<line x1="34" y1="5.5" x2="34" y2="27.7" stroke="#7a8a2c" stroke-width="0.5"/>
<line x1="3" y1="11.6" x2="34" y2="11.6" stroke="#7a8a2c" stroke-width="0.6"/>
</g>
<rect x="1173.1" y="851.2" width="81.7" height="38.5" fill="#fdc489" stroke="#8d6d4e" stroke-width="0.7"/>
<g transform="translate(1204.2 861.8)">
<rect x="0" y="0" width="21.4" height="21.2" fill="#767d8b" stroke="#505664" stroke-width="0.6"/>
<rect x="1.2" y="1" width="19" height="3.8" fill="#c3d1e6" stroke="none" stroke-width="0.6"/>
<rect x="1.2" y="15.6" width="19" height="4.4" fill="#b9cde8" stroke="none" stroke-width="0.6"/>
<rect x="2" y="6.2" width="17.4" height="8.2" fill="#7b8290" stroke="#5a6170" stroke-width="0.5"/>
<line x1="3.5" y1="9" x2="17.9" y2="9" stroke="#9aa4b4" stroke-width="0.6"/>
<line x1="3.5" y1="12" x2="17.9" y2="12" stroke="#8590a2" stroke-width="0.5"/>
</g>
<g transform="translate(1357.6 812.4) scale(-1 1)">
<rect x="2.5" y="0" width="24" height="5" fill="#9c9ca0" stroke="#6a6d72" stroke-width="0.6"/>
<rect x="2.5" y="28.5" width="24" height="5" fill="#9c9ca0" stroke="#6a6d72" stroke-width="0.6"/>
<rect x="0" y="2.8" width="27.5" height="27.9" fill="#9c9ca0" stroke="#6a6d72" stroke-width="0.6" rx="2"/>
<rect x="25.8" y="3.2" width="7.6" height="27" fill="#9c9ca0" stroke="#6a6d72" stroke-width="0.6" rx="3.2"/>
</g>
<g transform="translate(1384.3 917.4) rotate(180)">
<rect x="-4.3" y="15.6" width="6" height="3.8" fill="#d6e475" stroke="#7a8a2c" stroke-width="0.5" rx="1.5"/>
<rect x="35.3" y="15.6" width="6" height="3.8" fill="#d6e475" stroke="#7a8a2c" stroke-width="0.5" rx="1.5"/>
<rect x="16.2" y="0" width="4.6" height="3.2" fill="#d6e475" stroke="#7a8a2c" stroke-width="0.5"/>
<rect x="3" y="2.6" width="31" height="5" fill="#d6e475" stroke="#7a8a2c" stroke-width="0.5"/>
<rect x="0" y="5.5" width="37" height="22.2" fill="#d6e475" stroke="#7a8a2c" stroke-width="0.6"/>
<line x1="3" y1="5.5" x2="3" y2="27.7" stroke="#7a8a2c" stroke-width="0.5"/>
<line x1="34" y1="5.5" x2="34" y2="27.7" stroke="#7a8a2c" stroke-width="0.5"/>
<line x1="3" y1="11.6" x2="34" y2="11.6" stroke="#7a8a2c" stroke-width="0.6"/>
</g>
<rect x="1324.8" y="851.2" width="80.8" height="38.5" fill="#fdc489" stroke="#8d6d4e" stroke-width="0.7"/>
<g transform="translate(1355.5 861.8)">
<rect x="0" y="0" width="21.4" height="21.2" fill="#767d8b" stroke="#505664" stroke-width="0.6"/>
<rect x="1.2" y="1" width="19" height="3.8" fill="#c3d1e6" stroke="none" stroke-width="0.6"/>
<rect x="1.2" y="15.6" width="19" height="4.4" fill="#b9cde8" stroke="none" stroke-width="0.6"/>
<rect x="2" y="6.2" width="17.4" height="8.2" fill="#7b8290" stroke="#5a6170" stroke-width="0.5"/>
<line x1="3.5" y1="9" x2="17.9" y2="9" stroke="#9aa4b4" stroke-width="0.6"/>
<line x1="3.5" y1="12" x2="17.9" y2="12" stroke="#8590a2" stroke-width="0.5"/>
</g>
<g transform="translate(1508.6 812.4) scale(-1 1)">
<rect x="2.5" y="0" width="24" height="5" fill="#9c9ca0" stroke="#6a6d72" stroke-width="0.6"/>
<rect x="2.5" y="28.5" width="24" height="5" fill="#9c9ca0" stroke="#6a6d72" stroke-width="0.6"/>
<rect x="0" y="2.8" width="27.5" height="27.9" fill="#9c9ca0" stroke="#6a6d72" stroke-width="0.6" rx="2"/>
<rect x="25.8" y="3.2" width="7.6" height="27" fill="#9c9ca0" stroke="#6a6d72" stroke-width="0.6" rx="3.2"/>
</g>
<g transform="translate(1535.4 917.4) rotate(180)">
<rect x="-4.3" y="15.6" width="6" height="3.8" fill="#d6e475" stroke="#7a8a2c" stroke-width="0.5" rx="1.5"/>
<rect x="35.3" y="15.6" width="6" height="3.8" fill="#d6e475" stroke="#7a8a2c" stroke-width="0.5" rx="1.5"/>
<rect x="16.2" y="0" width="4.6" height="3.2" fill="#d6e475" stroke="#7a8a2c" stroke-width="0.5"/>
<rect x="3" y="2.6" width="31" height="5" fill="#d6e475" stroke="#7a8a2c" stroke-width="0.5"/>
<rect x="0" y="5.5" width="37" height="22.2" fill="#d6e475" stroke="#7a8a2c" stroke-width="0.6"/>
<line x1="3" y1="5.5" x2="3" y2="27.7" stroke="#7a8a2c" stroke-width="0.5"/>
<line x1="34" y1="5.5" x2="34" y2="27.7" stroke="#7a8a2c" stroke-width="0.5"/>
<line x1="3" y1="11.6" x2="34" y2="11.6" stroke="#7a8a2c" stroke-width="0.6"/>
</g>
<rect x="1476.3" y="851.2" width="81.1" height="38.5" fill="#fdc489" stroke="#8d6d4e" stroke-width="0.7"/>
<g transform="translate(1506.9 861.8)">
<rect x="0" y="0" width="21.4" height="21.2" fill="#767d8b" stroke="#505664" stroke-width="0.6"/>
<rect x="1.2" y="1" width="19" height="3.8" fill="#c3d1e6" stroke="none" stroke-width="0.6"/>
<rect x="1.2" y="15.6" width="19" height="4.4" fill="#b9cde8" stroke="none" stroke-width="0.6"/>
<rect x="2" y="6.2" width="17.4" height="8.2" fill="#7b8290" stroke="#5a6170" stroke-width="0.5"/>
<line x1="3.5" y1="9" x2="17.9" y2="9" stroke="#9aa4b4" stroke-width="0.6"/>
<line x1="3.5" y1="12" x2="17.9" y2="12" stroke="#8590a2" stroke-width="0.5"/>
</g>
<g transform="translate(1657.6 812.4) scale(-1 1)">
<rect x="2.5" y="0" width="24" height="5" fill="#9c9ca0" stroke="#6a6d72" stroke-width="0.6"/>
<rect x="2.5" y="28.5" width="24" height="5" fill="#9c9ca0" stroke="#6a6d72" stroke-width="0.6"/>
<rect x="0" y="2.8" width="27.5" height="27.9" fill="#9c9ca0" stroke="#6a6d72" stroke-width="0.6" rx="2"/>
<rect x="25.8" y="3.2" width="7.6" height="27" fill="#9c9ca0" stroke="#6a6d72" stroke-width="0.6" rx="3.2"/>
</g>
<g transform="translate(1684.2 917.4) rotate(180)">
<rect x="-4.3" y="15.6" width="6" height="3.8" fill="#d6e475" stroke="#7a8a2c" stroke-width="0.5" rx="1.5"/>
<rect x="35.3" y="15.6" width="6" height="3.8" fill="#d6e475" stroke="#7a8a2c" stroke-width="0.5" rx="1.5"/>
<rect x="16.2" y="0" width="4.6" height="3.2" fill="#d6e475" stroke="#7a8a2c" stroke-width="0.5"/>
<rect x="3" y="2.6" width="31" height="5" fill="#d6e475" stroke="#7a8a2c" stroke-width="0.5"/>
<rect x="0" y="5.5" width="37" height="22.2" fill="#d6e475" stroke="#7a8a2c" stroke-width="0.6"/>
<line x1="3" y1="5.5" x2="3" y2="27.7" stroke="#7a8a2c" stroke-width="0.5"/>
<line x1="34" y1="5.5" x2="34" y2="27.7" stroke="#7a8a2c" stroke-width="0.5"/>
<line x1="3" y1="11.6" x2="34" y2="11.6" stroke="#7a8a2c" stroke-width="0.6"/>
</g>
<rect x="1625" y="851.2" width="81" height="38.5" fill="#fdc489" stroke="#8d6d4e" stroke-width="0.7"/>
<g transform="translate(1655.5 861.8)">
<rect x="0" y="0" width="21.4" height="21.2" fill="#767d8b" stroke="#505664" stroke-width="0.6"/>
<rect x="1.2" y="1" width="19" height="3.8" fill="#c3d1e6" stroke="none" stroke-width="0.6"/>
<rect x="1.2" y="15.6" width="19" height="4.4" fill="#b9cde8" stroke="none" stroke-width="0.6"/>
<rect x="2" y="6.2" width="17.4" height="8.2" fill="#7b8290" stroke="#5a6170" stroke-width="0.5"/>
<line x1="3.5" y1="9" x2="17.9" y2="9" stroke="#9aa4b4" stroke-width="0.6"/>
<line x1="3.5" y1="12" x2="17.9" y2="12" stroke="#8590a2" stroke-width="0.5"/>
</g>
<rect x="1145" y="423" width="37.5" height="50.3" fill="#c5a67b" stroke="#8a7152" stroke-width="0.7"/>
<line x1="1145" y1="423" x2="1182.5" y2="473.3" stroke="#8a7152" stroke-width="0.5"/>
<line x1="1145" y1="473.3" x2="1182.5" y2="423" stroke="#8a7152" stroke-width="0.5"/>
<rect x="1290.3" y="423" width="38" height="50.3" fill="#c5a67b" stroke="#8a7152" stroke-width="0.7"/>
<line x1="1290.3" y1="423" x2="1328.3" y2="473.3" stroke="#8a7152" stroke-width="0.5"/>
<line x1="1290.3" y1="473.3" x2="1328.3" y2="423" stroke="#8a7152" stroke-width="0.5"/>
<rect x="1637.5" y="435.7" width="50.5" height="37.6" fill="#c5a67b" stroke="#8a7152" stroke-width="0.7"/>
<line x1="1637.5" y1="435.7" x2="1688" y2="473.3" stroke="#8a7152" stroke-width="0.5"/>
<line x1="1637.5" y1="473.3" x2="1688" y2="435.7" stroke="#8a7152" stroke-width="0.5"/>
<rect x="1688" y="435.7" width="50.2" height="37.6" fill="#c5a67b" stroke="#8a7152" stroke-width="0.7"/>
<line x1="1688" y1="435.7" x2="1738.2" y2="473.3" stroke="#8a7152" stroke-width="0.5"/>
<line x1="1688" y1="473.3" x2="1738.2" y2="435.7" stroke="#8a7152" stroke-width="0.5"/>
<rect x="1248.3" y="571.8" width="38.3" height="50.5" fill="#c5a67b" stroke="#8a7152" stroke-width="0.7"/>
<line x1="1248.3" y1="571.8" x2="1286.6" y2="622.3" stroke="#8a7152" stroke-width="0.5"/>
<line x1="1248.3" y1="622.3" x2="1286.6" y2="571.8" stroke="#8a7152" stroke-width="0.5"/>
<rect x="1400.2" y="571.8" width="37.8" height="50.5" fill="#c5a67b" stroke="#8a7152" stroke-width="0.7"/>
<line x1="1400.2" y1="571.8" x2="1438" y2="622.3" stroke="#8a7152" stroke-width="0.5"/>
<line x1="1400.2" y1="622.3" x2="1438" y2="571.8" stroke="#8a7152" stroke-width="0.5"/>
<rect x="1551.3" y="571.8" width="37.9" height="50.5" fill="#c5a67b" stroke="#8a7152" stroke-width="0.7"/>
<line x1="1551.3" y1="571.8" x2="1589.2" y2="622.3" stroke="#8a7152" stroke-width="0.5"/>
<line x1="1551.3" y1="622.3" x2="1589.2" y2="571.8" stroke="#8a7152" stroke-width="0.5"/>
<rect x="1700.8" y="571.8" width="37.4" height="50.5" fill="#c5a67b" stroke="#8a7152" stroke-width="0.7"/>
<line x1="1700.8" y1="571.8" x2="1738.2" y2="622.3" stroke="#8a7152" stroke-width="0.5"/>
<line x1="1700.8" y1="622.3" x2="1738.2" y2="571.8" stroke="#8a7152" stroke-width="0.5"/>
<rect x="387.6" y="836" width="38" height="50.6" fill="#c5a67b" stroke="#8a7152" stroke-width="0.7"/>
<line x1="387.6" y1="836" x2="425.6" y2="886.6" stroke="#8a7152" stroke-width="0.5"/>
<line x1="387.6" y1="886.6" x2="425.6" y2="836" stroke="#8a7152" stroke-width="0.5"/>
<rect x="387.6" y="897" width="38" height="50.6" fill="#c5a67b" stroke="#8a7152" stroke-width="0.7"/>
<line x1="387.6" y1="897" x2="425.6" y2="947.6" stroke="#8a7152" stroke-width="0.5"/>
<line x1="387.6" y1="947.6" x2="425.6" y2="897" stroke="#8a7152" stroke-width="0.5"/>
<rect x="1268.2" y="623" width="18.4" height="30.5" fill="#5a8ee9" stroke="#3a66b8" stroke-width="0.6"/>
<rect x="1268.2" y="656.3" width="18.4" height="31.5" fill="#5a8ee9" stroke="#3a66b8" stroke-width="0.6"/>
<rect x="1419.3" y="623" width="18.7" height="30.5" fill="#5a8ee9" stroke="#3a66b8" stroke-width="0.6"/>
<rect x="1419.3" y="656.3" width="18.7" height="31.5" fill="#5a8ee9" stroke="#3a66b8" stroke-width="0.6"/>
<rect x="1570.5" y="623" width="18.7" height="30.5" fill="#5a8ee9" stroke="#3a66b8" stroke-width="0.6"/>
<rect x="1570.5" y="656.3" width="18.7" height="31.5" fill="#5a8ee9" stroke="#3a66b8" stroke-width="0.6"/>
<rect x="1719.6" y="623" width="18.6" height="30.5" fill="#5a8ee9" stroke="#3a66b8" stroke-width="0.6"/>
<rect x="1719.6" y="656.3" width="18.6" height="31.5" fill="#5a8ee9" stroke="#3a66b8" stroke-width="0.6"/>
<rect x="387.6" y="571.8" width="38" height="186.2" fill="#a8e3dc" stroke="#4f8a83" stroke-width="0.7"/>
<line x1="387.6" y1="609.3" x2="425.6" y2="609.3" stroke="#4f8a83" stroke-width="0.7"/>
<line x1="401.1" y1="590.6" x2="411.5" y2="590.6" stroke="#3f5f5b" stroke-width="0.7"/>
<line x1="402.62" y1="586.92" x2="409.98" y2="594.28" stroke="#3f5f5b" stroke-width="0.7"/>
<line x1="406.3" y1="585.4" x2="406.3" y2="595.8" stroke="#3f5f5b" stroke-width="0.7"/>
<line x1="409.98" y1="586.92" x2="402.62" y2="594.28" stroke="#3f5f5b" stroke-width="0.7"/>
<rect x="391" y="643.3" width="32" height="37" fill="#a8e3dc" stroke="#3f5f5b" stroke-width="0.6"/>
<circle cx="399.7" cy="653.8" r="6.4" fill="none" stroke="#3f5f5b" stroke-width="0.6"/>
<circle cx="414.6" cy="652.2" r="4.4" fill="none" stroke="#3f5f5b" stroke-width="0.6"/>
<circle cx="399.2" cy="672" r="4.4" fill="none" stroke="#3f5f5b" stroke-width="0.6"/>
<circle cx="413.6" cy="671" r="5.4" fill="none" stroke="#3f5f5b" stroke-width="0.6"/>
<line x1="393.5" y1="644.5" x2="398" y2="649" stroke="#3f5f5b" stroke-width="0.5"/>
<line x1="393.5" y1="679" x2="398" y2="675" stroke="#3f5f5b" stroke-width="0.5"/>
<line x1="410.5" y1="651" x2="417" y2="655" stroke="#3f5f5b" stroke-width="0.5"/>
<line x1="410.5" y1="674" x2="417" y2="669" stroke="#3f5f5b" stroke-width="0.5"/>
<line x1="419" y1="653.5" x2="424.5" y2="653.5" stroke="#3f5f5b" stroke-width="0.5"/>
<line x1="419" y1="671.5" x2="424.5" y2="671.5" stroke="#3f5f5b" stroke-width="0.5"/>
<rect x="392.3" y="697" width="31.4" height="50.3" fill="#a8e3dc" stroke="#3f5f5b" stroke-width="0.6"/>
<rect x="395" y="700" width="23" height="21" fill="#a8e3dc" stroke="#3f5f5b" stroke-width="0.6"/>
<line x1="395.5" y1="724.5" x2="395.5" y2="744.5" stroke="#3f5f5b" stroke-width="0.5"/>
<line x1="399.8" y1="724.5" x2="399.8" y2="744.5" stroke="#3f5f5b" stroke-width="0.5"/>
<line x1="404.1" y1="724.5" x2="404.1" y2="744.5" stroke="#3f5f5b" stroke-width="0.5"/>
<line x1="408.4" y1="724.5" x2="408.4" y2="744.5" stroke="#3f5f5b" stroke-width="0.5"/>
<line x1="412.7" y1="724.5" x2="412.7" y2="744.5" stroke="#3f5f5b" stroke-width="0.5"/>
<line x1="417" y1="724.5" x2="417" y2="744.5" stroke="#3f5f5b" stroke-width="0.5"/>
<g transform="translate(569 668.5)">
<rect x="0" y="0" width="22.6" height="30" fill="#d8c3cb" stroke="#86747d" stroke-width="0.6" rx="1.5"/>
<rect x="2.3" y="1.2" width="20.3" height="2.5" fill="#d8c3cb" stroke="#86747d" stroke-width="0.4"/>
<rect x="2.3" y="26.3" width="20.3" height="2.5" fill="#d8c3cb" stroke="#86747d" stroke-width="0.4"/>
<line x1="4" y1="0" x2="4" y2="30" stroke="#86747d" stroke-width="0.6"/>
</g>
<g transform="translate(652.4 668.5) scale(-1 1)">
<rect x="0" y="0" width="22.6" height="30" fill="#d8c3cb" stroke="#86747d" stroke-width="0.6" rx="1.5"/>
<rect x="2.3" y="1.2" width="20.3" height="2.5" fill="#d8c3cb" stroke="#86747d" stroke-width="0.4"/>
<rect x="2.3" y="26.3" width="20.3" height="2.5" fill="#d8c3cb" stroke="#86747d" stroke-width="0.4"/>
<line x1="4" y1="0" x2="4" y2="30" stroke="#86747d" stroke-width="0.6"/>
</g>
<g transform="translate(569 709.5)">
<rect x="0" y="0" width="22.6" height="30" fill="#d8c3cb" stroke="#86747d" stroke-width="0.6" rx="1.5"/>
<rect x="2.3" y="1.2" width="20.3" height="2.5" fill="#d8c3cb" stroke="#86747d" stroke-width="0.4"/>
<rect x="2.3" y="26.3" width="20.3" height="2.5" fill="#d8c3cb" stroke="#86747d" stroke-width="0.4"/>
<line x1="4" y1="0" x2="4" y2="30" stroke="#86747d" stroke-width="0.6"/>
</g>
<g transform="translate(652.4 709.5) scale(-1 1)">
<rect x="0" y="0" width="22.6" height="30" fill="#d8c3cb" stroke="#86747d" stroke-width="0.6" rx="1.5"/>
<rect x="2.3" y="1.2" width="20.3" height="2.5" fill="#d8c3cb" stroke="#86747d" stroke-width="0.4"/>
<rect x="2.3" y="26.3" width="20.3" height="2.5" fill="#d8c3cb" stroke="#86747d" stroke-width="0.4"/>
<line x1="4" y1="0" x2="4" y2="30" stroke="#86747d" stroke-width="0.6"/>
</g>
<rect x="591.6" y="664.8" width="38.2" height="81" fill="#fdc68a" stroke="#a88560" stroke-width="0.7"/>
<g transform="translate(569 808.5)">
<rect x="0" y="0" width="22.6" height="30" fill="#d8c3cb" stroke="#86747d" stroke-width="0.6" rx="1.5"/>
<rect x="2.3" y="1.2" width="20.3" height="2.5" fill="#d8c3cb" stroke="#86747d" stroke-width="0.4"/>
<rect x="2.3" y="26.3" width="20.3" height="2.5" fill="#d8c3cb" stroke="#86747d" stroke-width="0.4"/>
<line x1="4" y1="0" x2="4" y2="30" stroke="#86747d" stroke-width="0.6"/>
</g>
<g transform="translate(652.4 808.5) scale(-1 1)">
<rect x="0" y="0" width="22.6" height="30" fill="#d8c3cb" stroke="#86747d" stroke-width="0.6" rx="1.5"/>
<rect x="2.3" y="1.2" width="20.3" height="2.5" fill="#d8c3cb" stroke="#86747d" stroke-width="0.4"/>
<rect x="2.3" y="26.3" width="20.3" height="2.5" fill="#d8c3cb" stroke="#86747d" stroke-width="0.4"/>
<line x1="4" y1="0" x2="4" y2="30" stroke="#86747d" stroke-width="0.6"/>
</g>
<g transform="translate(569 849.5)">
<rect x="0" y="0" width="22.6" height="30" fill="#d8c3cb" stroke="#86747d" stroke-width="0.6" rx="1.5"/>
<rect x="2.3" y="1.2" width="20.3" height="2.5" fill="#d8c3cb" stroke="#86747d" stroke-width="0.4"/>
<rect x="2.3" y="26.3" width="20.3" height="2.5" fill="#d8c3cb" stroke="#86747d" stroke-width="0.4"/>
<line x1="4" y1="0" x2="4" y2="30" stroke="#86747d" stroke-width="0.6"/>
</g>
<g transform="translate(652.4 849.5) scale(-1 1)">
<rect x="0" y="0" width="22.6" height="30" fill="#d8c3cb" stroke="#86747d" stroke-width="0.6" rx="1.5"/>
<rect x="2.3" y="1.2" width="20.3" height="2.5" fill="#d8c3cb" stroke="#86747d" stroke-width="0.4"/>
<rect x="2.3" y="26.3" width="20.3" height="2.5" fill="#d8c3cb" stroke="#86747d" stroke-width="0.4"/>
<line x1="4" y1="0" x2="4" y2="30" stroke="#86747d" stroke-width="0.6"/>
</g>
<rect x="591.6" y="805.4" width="38.2" height="80.8" fill="#fdc68a" stroke="#a88560" stroke-width="0.7"/>
<rect x="718.4" y="597" width="13.8" height="31.4" fill="#4cbf82" stroke="#3a7355" stroke-width="0.7"/>
<line x1="719.7" y1="597.5" x2="719.7" y2="627.9" stroke="#3f8a60" stroke-width="0.6"/>
<line x1="719.8" y1="598.4" x2="716.5" y2="595.1" stroke="#505050" stroke-width="1"/>
<line x1="719.8" y1="627" x2="716.5" y2="630.3" stroke="#505050" stroke-width="1"/>
<rect x="770.3" y="597" width="13.6" height="31.4" fill="#4cbf82" stroke="#3a7355" stroke-width="0.7"/>
<line x1="782.6" y1="597.5" x2="782.6" y2="627.9" stroke="#3f8a60" stroke-width="0.6"/>
<line x1="782.5" y1="598.4" x2="785.8" y2="595.1" stroke="#505050" stroke-width="1"/>
<line x1="782.5" y1="627" x2="785.8" y2="630.3" stroke="#505050" stroke-width="1"/>
<rect x="718.4" y="638" width="13.8" height="31.5" fill="#4cbf82" stroke="#3a7355" stroke-width="0.7"/>
<line x1="719.7" y1="638.5" x2="719.7" y2="669" stroke="#3f8a60" stroke-width="0.6"/>
<line x1="719.8" y1="639.4" x2="716.5" y2="636.1" stroke="#505050" stroke-width="1"/>
<line x1="719.8" y1="668.1" x2="716.5" y2="671.4" stroke="#505050" stroke-width="1"/>
<rect x="770.3" y="638" width="13.6" height="31.5" fill="#4cbf82" stroke="#3a7355" stroke-width="0.7"/>
<line x1="782.6" y1="638.5" x2="782.6" y2="669" stroke="#3f8a60" stroke-width="0.6"/>
<line x1="782.5" y1="639.4" x2="785.8" y2="636.1" stroke="#505050" stroke-width="1"/>
<line x1="782.5" y1="668.1" x2="785.8" y2="671.4" stroke="#505050" stroke-width="1"/>
<rect x="732.2" y="594" width="38.1" height="80.7" fill="#fdc68a" stroke="#a88560" stroke-width="0.7"/>
<rect x="718.4" y="720.2" width="13.8" height="31.4" fill="#4cbf82" stroke="#3a7355" stroke-width="0.7"/>
<line x1="719.7" y1="720.7" x2="719.7" y2="751.1" stroke="#3f8a60" stroke-width="0.6"/>
<line x1="719.8" y1="721.6" x2="716.5" y2="718.3" stroke="#505050" stroke-width="1"/>
<line x1="719.8" y1="750.2" x2="716.5" y2="753.5" stroke="#505050" stroke-width="1"/>
<rect x="770.3" y="720.2" width="13.6" height="31.4" fill="#4cbf82" stroke="#3a7355" stroke-width="0.7"/>
<line x1="782.6" y1="720.7" x2="782.6" y2="751.1" stroke="#3f8a60" stroke-width="0.6"/>
<line x1="782.5" y1="721.6" x2="785.8" y2="718.3" stroke="#505050" stroke-width="1"/>
<line x1="782.5" y1="750.2" x2="785.8" y2="753.5" stroke="#505050" stroke-width="1"/>
<rect x="718.4" y="761.2" width="13.8" height="31.5" fill="#4cbf82" stroke="#3a7355" stroke-width="0.7"/>
<line x1="719.7" y1="761.7" x2="719.7" y2="792.2" stroke="#3f8a60" stroke-width="0.6"/>
<line x1="719.8" y1="762.6" x2="716.5" y2="759.3" stroke="#505050" stroke-width="1"/>
<line x1="719.8" y1="791.3" x2="716.5" y2="794.6" stroke="#505050" stroke-width="1"/>
<rect x="770.3" y="761.2" width="13.6" height="31.5" fill="#4cbf82" stroke="#3a7355" stroke-width="0.7"/>
<line x1="782.6" y1="761.7" x2="782.6" y2="792.2" stroke="#3f8a60" stroke-width="0.6"/>
<line x1="782.5" y1="762.6" x2="785.8" y2="759.3" stroke="#505050" stroke-width="1"/>
<line x1="782.5" y1="791.3" x2="785.8" y2="794.6" stroke="#505050" stroke-width="1"/>
<rect x="732.2" y="717.2" width="38.1" height="80.3" fill="#fdc68a" stroke="#a88560" stroke-width="0.7"/>
<rect x="718.4" y="852.3" width="13.8" height="31.4" fill="#4cbf82" stroke="#3a7355" stroke-width="0.7"/>
<line x1="719.7" y1="852.8" x2="719.7" y2="883.2" stroke="#3f8a60" stroke-width="0.6"/>
<line x1="719.8" y1="853.7" x2="716.5" y2="850.4" stroke="#505050" stroke-width="1"/>
<line x1="719.8" y1="882.3" x2="716.5" y2="885.6" stroke="#505050" stroke-width="1"/>
<rect x="770.3" y="852.3" width="13.6" height="31.4" fill="#4cbf82" stroke="#3a7355" stroke-width="0.7"/>
<line x1="782.6" y1="852.8" x2="782.6" y2="883.2" stroke="#3f8a60" stroke-width="0.6"/>
<line x1="782.5" y1="853.7" x2="785.8" y2="850.4" stroke="#505050" stroke-width="1"/>
<line x1="782.5" y1="882.3" x2="785.8" y2="885.6" stroke="#505050" stroke-width="1"/>
<rect x="718.4" y="893.3" width="13.8" height="31.5" fill="#4cbf82" stroke="#3a7355" stroke-width="0.7"/>
<line x1="719.7" y1="893.8" x2="719.7" y2="924.3" stroke="#3f8a60" stroke-width="0.6"/>
<line x1="719.8" y1="894.7" x2="716.5" y2="891.4" stroke="#505050" stroke-width="1"/>
<line x1="719.8" y1="923.4" x2="716.5" y2="926.7" stroke="#505050" stroke-width="1"/>
<rect x="770.3" y="893.3" width="13.6" height="31.5" fill="#4cbf82" stroke="#3a7355" stroke-width="0.7"/>
<line x1="782.6" y1="893.8" x2="782.6" y2="924.3" stroke="#3f8a60" stroke-width="0.6"/>
<line x1="782.5" y1="894.7" x2="785.8" y2="891.4" stroke="#505050" stroke-width="1"/>
<line x1="782.5" y1="923.4" x2="785.8" y2="926.7" stroke="#505050" stroke-width="1"/>
<rect x="732.2" y="849.3" width="38.1" height="81.1" fill="#fdc68a" stroke="#a88560" stroke-width="0.7"/>
<rect x="890.6" y="597" width="13.8" height="31.4" fill="#4cbf82" stroke="#3a7355" stroke-width="0.7"/>
<line x1="891.9" y1="597.5" x2="891.9" y2="627.9" stroke="#3f8a60" stroke-width="0.6"/>
<line x1="892" y1="598.4" x2="888.7" y2="595.1" stroke="#505050" stroke-width="1"/>
<line x1="892" y1="627" x2="888.7" y2="630.3" stroke="#505050" stroke-width="1"/>
<rect x="942.8" y="597" width="13.6" height="31.4" fill="#4cbf82" stroke="#3a7355" stroke-width="0.7"/>
<line x1="955.1" y1="597.5" x2="955.1" y2="627.9" stroke="#3f8a60" stroke-width="0.6"/>
<line x1="955" y1="598.4" x2="958.3" y2="595.1" stroke="#505050" stroke-width="1"/>
<line x1="955" y1="627" x2="958.3" y2="630.3" stroke="#505050" stroke-width="1"/>
<rect x="890.6" y="638" width="13.8" height="31.5" fill="#4cbf82" stroke="#3a7355" stroke-width="0.7"/>
<line x1="891.9" y1="638.5" x2="891.9" y2="669" stroke="#3f8a60" stroke-width="0.6"/>
<line x1="892" y1="639.4" x2="888.7" y2="636.1" stroke="#505050" stroke-width="1"/>
<line x1="892" y1="668.1" x2="888.7" y2="671.4" stroke="#505050" stroke-width="1"/>
<rect x="942.8" y="638" width="13.6" height="31.5" fill="#4cbf82" stroke="#3a7355" stroke-width="0.7"/>
<line x1="955.1" y1="638.5" x2="955.1" y2="669" stroke="#3f8a60" stroke-width="0.6"/>
<line x1="955" y1="639.4" x2="958.3" y2="636.1" stroke="#505050" stroke-width="1"/>
<line x1="955" y1="668.1" x2="958.3" y2="671.4" stroke="#505050" stroke-width="1"/>
<rect x="904.4" y="594" width="38.4" height="80.7" fill="#fdc68a" stroke="#a88560" stroke-width="0.7"/>
<rect x="890.6" y="720.2" width="13.8" height="31.4" fill="#4cbf82" stroke="#3a7355" stroke-width="0.7"/>
<line x1="891.9" y1="720.7" x2="891.9" y2="751.1" stroke="#3f8a60" stroke-width="0.6"/>
<line x1="892" y1="721.6" x2="888.7" y2="718.3" stroke="#505050" stroke-width="1"/>
<line x1="892" y1="750.2" x2="888.7" y2="753.5" stroke="#505050" stroke-width="1"/>
<rect x="942.8" y="720.2" width="13.6" height="31.4" fill="#4cbf82" stroke="#3a7355" stroke-width="0.7"/>
<line x1="955.1" y1="720.7" x2="955.1" y2="751.1" stroke="#3f8a60" stroke-width="0.6"/>
<line x1="955" y1="721.6" x2="958.3" y2="718.3" stroke="#505050" stroke-width="1"/>
<line x1="955" y1="750.2" x2="958.3" y2="753.5" stroke="#505050" stroke-width="1"/>
<rect x="890.6" y="761.2" width="13.8" height="31.5" fill="#4cbf82" stroke="#3a7355" stroke-width="0.7"/>
<line x1="891.9" y1="761.7" x2="891.9" y2="792.2" stroke="#3f8a60" stroke-width="0.6"/>
<line x1="892" y1="762.6" x2="888.7" y2="759.3" stroke="#505050" stroke-width="1"/>
<line x1="892" y1="791.3" x2="888.7" y2="794.6" stroke="#505050" stroke-width="1"/>
<rect x="942.8" y="761.2" width="13.6" height="31.5" fill="#4cbf82" stroke="#3a7355" stroke-width="0.7"/>
<line x1="955.1" y1="761.7" x2="955.1" y2="792.2" stroke="#3f8a60" stroke-width="0.6"/>
<line x1="955" y1="762.6" x2="958.3" y2="759.3" stroke="#505050" stroke-width="1"/>
<line x1="955" y1="791.3" x2="958.3" y2="794.6" stroke="#505050" stroke-width="1"/>
<rect x="904.4" y="717.2" width="38.4" height="80.3" fill="#fdc68a" stroke="#a88560" stroke-width="0.7"/>
<rect x="890.6" y="852.3" width="13.8" height="31.4" fill="#4cbf82" stroke="#3a7355" stroke-width="0.7"/>
<line x1="891.9" y1="852.8" x2="891.9" y2="883.2" stroke="#3f8a60" stroke-width="0.6"/>
<line x1="892" y1="853.7" x2="888.7" y2="850.4" stroke="#505050" stroke-width="1"/>
<line x1="892" y1="882.3" x2="888.7" y2="885.6" stroke="#505050" stroke-width="1"/>
<rect x="942.8" y="852.3" width="13.6" height="31.4" fill="#4cbf82" stroke="#3a7355" stroke-width="0.7"/>
<line x1="955.1" y1="852.8" x2="955.1" y2="883.2" stroke="#3f8a60" stroke-width="0.6"/>
<line x1="955" y1="853.7" x2="958.3" y2="850.4" stroke="#505050" stroke-width="1"/>
<line x1="955" y1="882.3" x2="958.3" y2="885.6" stroke="#505050" stroke-width="1"/>
<rect x="890.6" y="893.3" width="13.8" height="31.5" fill="#4cbf82" stroke="#3a7355" stroke-width="0.7"/>
<line x1="891.9" y1="893.8" x2="891.9" y2="924.3" stroke="#3f8a60" stroke-width="0.6"/>
<line x1="892" y1="894.7" x2="888.7" y2="891.4" stroke="#505050" stroke-width="1"/>
<line x1="892" y1="923.4" x2="888.7" y2="926.7" stroke="#505050" stroke-width="1"/>
<rect x="942.8" y="893.3" width="13.6" height="31.5" fill="#4cbf82" stroke="#3a7355" stroke-width="0.7"/>
<line x1="955.1" y1="893.8" x2="955.1" y2="924.3" stroke="#3f8a60" stroke-width="0.6"/>
<line x1="955" y1="894.7" x2="958.3" y2="891.4" stroke="#505050" stroke-width="1"/>
<line x1="955" y1="923.4" x2="958.3" y2="926.7" stroke="#505050" stroke-width="1"/>
<rect x="904.4" y="849.3" width="38.4" height="81.1" fill="#fdc68a" stroke="#a88560" stroke-width="0.7"/>
<path d="M 990.3 586 A 29 19.5 0 0 1 990.3 625 Z" fill="#ffffff" stroke="#3c3c3c" stroke-width="0.7"/>
<path d="M 997.2 589 L 997.2 589 A 19.5 16.5 0 0 1 997.2 622 L 997.2 622 Z" fill="none" stroke="#3c3c3c" stroke-width="0.6"/>
<rect x="1000.9" y="604.2" width="2.6" height="2.6" fill="none" stroke="#3c3c3c" stroke-width="0.5" transform="rotate(45 1002.2 605.5)"/>
<rect x="990.6" y="650.9" width="12.2" height="26.6" fill="#ffffff" stroke="#3c3c3c" stroke-width="0.7" rx="4"/>
<ellipse cx="1017.3" cy="664.2" rx="14.8" ry="11.3" fill="#ffffff" stroke="#3c3c3c" stroke-width="0.7"/>
<circle cx="996.5" cy="664.2" r="0.9" fill="#3c3c3c"/>
<path d="M 990.3 701.5 A 29 19.5 0 0 1 990.3 740.5 Z" fill="#ffffff" stroke="#3c3c3c" stroke-width="0.7"/>
<path d="M 997.2 704.5 L 997.2 704.5 A 19.5 16.5 0 0 1 997.2 737.5 L 997.2 737.5 Z" fill="none" stroke="#3c3c3c" stroke-width="0.6"/>
<rect x="1000.9" y="719.7" width="2.6" height="2.6" fill="none" stroke="#3c3c3c" stroke-width="0.5" transform="rotate(45 1002.2 721)"/>
<rect x="990.6" y="759.7" width="12.2" height="26.6" fill="#ffffff" stroke="#3c3c3c" stroke-width="0.7" rx="4"/>
<ellipse cx="1017.3" cy="773" rx="14.8" ry="11.3" fill="#ffffff" stroke="#3c3c3c" stroke-width="0.7"/>
<circle cx="996.5" cy="773" r="0.9" fill="#3c3c3c"/>
<polygon points="990.3,800.3 1040.6,800.3 1040.6,825.4 1016.2,850.7 990.3,850.7" fill="#5b97ee" stroke="#3a66b8" stroke-width="0.7"/>
<rect x="1006" y="802" width="28" height="6" fill="none" stroke="#2f4f86" stroke-width="0.5"/>
<line x1="1001.5" y1="811" x2="1001.5" y2="840" stroke="#2f4f86" stroke-width="0.5"/>
<line x1="1006" y1="816" x2="1020" y2="829" stroke="#2f4f86" stroke-width="0.5"/>
<circle cx="1001.5" cy="811" r="1.6" fill="none" stroke="#2f4f86" stroke-width="0.5"/>
<line x1="993.5" y1="808" x2="993.5" y2="845" stroke="#2f4f86" stroke-width="0.4"/>
<rect x="991" y="876.5" width="4.2" height="2.4" fill="#8a8a8a" stroke="none" stroke-width="0.6"/>
<rect x="991" y="882.9" width="4.2" height="2.4" fill="#8a8a8a" stroke="none" stroke-width="0.6"/>
<rect x="991" y="889.3" width="4.2" height="2.4" fill="#8a8a8a" stroke="none" stroke-width="0.6"/>
<rect x="991" y="895.7" width="4.2" height="2.4" fill="#8a8a8a" stroke="none" stroke-width="0.6"/>
<rect x="991" y="902.1" width="4.2" height="2.4" fill="#8a8a8a" stroke="none" stroke-width="0.6"/>
<line x1="991.2" y1="871" x2="991.2" y2="910" stroke="#777" stroke-width="0.6"/>
<circle cx="1010.3" cy="931.5" r="14.5" fill="#dccf99" stroke="#9a8d5a" stroke-width="0.8"/>
<circle cx="1010.3" cy="931.5" r="4.2" fill="#ffffff" stroke="#9a8d5a" stroke-width="0.6"/>
<rect x="991.5" y="926.5" width="5" height="10" fill="#dccf99" stroke="#9a8d5a" stroke-width="0.6"/>
<rect x="1008.5" y="945.5" width="4" height="2.1" fill="#dccf99" stroke="#9a8d5a" stroke-width="0.5"/>
<rect x="381.05" y="348.3" width="9.4" height="9.4" fill="#f3f1dc" stroke="#4a4a4a" stroke-width="0.7"/>
<line x1="382.55" y1="356.5" x2="389.25" y2="349.8" stroke="#6a6a50" stroke-width="0.6"/>
<line x1="382.05" y1="353.1" x2="385.85" y2="349.3" stroke="#a0a080" stroke-width="0.4"/>
<line x1="385.65" y1="356.7" x2="389.45" y2="352.9" stroke="#a0a080" stroke-width="0.4"/>
<rect x="530.9" y="348.3" width="9.4" height="9.4" fill="#f3f1dc" stroke="#4a4a4a" stroke-width="0.7"/>
<line x1="532.4" y1="356.5" x2="539.1" y2="349.8" stroke="#6a6a50" stroke-width="0.6"/>
<line x1="531.9" y1="353.1" x2="535.7" y2="349.3" stroke="#a0a080" stroke-width="0.4"/>
<line x1="535.5" y1="356.7" x2="539.3" y2="352.9" stroke="#a0a080" stroke-width="0.4"/>
<rect x="681.05" y="348.3" width="9.4" height="9.4" fill="#f3f1dc" stroke="#4a4a4a" stroke-width="0.7"/>
<line x1="682.55" y1="356.5" x2="689.25" y2="349.8" stroke="#6a6a50" stroke-width="0.6"/>
<line x1="682.05" y1="353.1" x2="685.85" y2="349.3" stroke="#a0a080" stroke-width="0.4"/>
<line x1="685.65" y1="356.7" x2="689.45" y2="352.9" stroke="#a0a080" stroke-width="0.4"/>
<rect x="834" y="348.3" width="9.4" height="9.4" fill="#f3f1dc" stroke="#4a4a4a" stroke-width="0.7"/>
<line x1="835.5" y1="356.5" x2="842.2" y2="349.8" stroke="#6a6a50" stroke-width="0.6"/>
<line x1="835" y1="353.1" x2="838.8" y2="349.3" stroke="#a0a080" stroke-width="0.4"/>
<line x1="838.6" y1="356.7" x2="842.4" y2="352.9" stroke="#a0a080" stroke-width="0.4"/>
<rect x="983.6" y="348.3" width="9.4" height="9.4" fill="#f3f1dc" stroke="#4a4a4a" stroke-width="0.7"/>
<line x1="985.1" y1="356.5" x2="991.8" y2="349.8" stroke="#6a6a50" stroke-width="0.6"/>
<line x1="984.6" y1="353.1" x2="988.4" y2="349.3" stroke="#a0a080" stroke-width="0.4"/>
<line x1="988.2" y1="356.7" x2="992" y2="352.9" stroke="#a0a080" stroke-width="0.4"/>
<rect x="1591.3" y="348.1" width="9.4" height="9.4" fill="#f3f1dc" stroke="#4a4a4a" stroke-width="0.7"/>
<line x1="1592.8" y1="356.3" x2="1599.5" y2="349.6" stroke="#6a6a50" stroke-width="0.6"/>
<line x1="1592.3" y1="352.9" x2="1596.1" y2="349.1" stroke="#a0a080" stroke-width="0.4"/>
<line x1="1595.9" y1="356.5" x2="1599.7" y2="352.7" stroke="#a0a080" stroke-width="0.4"/>
<rect x="834.5" y="511.9" width="9.4" height="9.4" fill="#f3f1dc" stroke="#4a4a4a" stroke-width="0.7"/>
<line x1="836" y1="520.1" x2="842.7" y2="513.4" stroke="#6a6a50" stroke-width="0.6"/>
<line x1="835.5" y1="516.7" x2="839.3" y2="512.9" stroke="#a0a080" stroke-width="0.4"/>
<line x1="839.1" y1="520.3" x2="842.9" y2="516.5" stroke="#a0a080" stroke-width="0.4"/>
<rect x="533.1" y="757" width="9.4" height="9.4" fill="#f3f1dc" stroke="#4a4a4a" stroke-width="0.7"/>
<line x1="534.6" y1="765.2" x2="541.3" y2="758.5" stroke="#6a6a50" stroke-width="0.6"/>
<line x1="534.1" y1="761.8" x2="537.9" y2="758" stroke="#a0a080" stroke-width="0.4"/>
<line x1="537.7" y1="765.4" x2="541.5" y2="761.6" stroke="#a0a080" stroke-width="0.4"/>
<rect x="833.1" y="756.8" width="9.4" height="9.4" fill="#f3f1dc" stroke="#4a4a4a" stroke-width="0.7"/>
<line x1="834.6" y1="765" x2="841.3" y2="758.3" stroke="#6a6a50" stroke-width="0.6"/>
<line x1="834.1" y1="761.6" x2="837.9" y2="757.8" stroke="#a0a080" stroke-width="0.4"/>
<line x1="837.7" y1="765.2" x2="841.5" y2="761.4" stroke="#a0a080" stroke-width="0.4"/>
<rect x="233.2" y="199.3" width="51.8" height="5.7" fill="#8b8d8d" stroke="#5e5e5e" stroke-width="0.5"/>
<rect x="335.2" y="199.3" width="101.55" height="5.7" fill="#8b8d8d" stroke="#5e5e5e" stroke-width="0.5"/>
<rect x="486.95" y="199.3" width="100.55" height="5.7" fill="#8b8d8d" stroke="#5e5e5e" stroke-width="0.5"/>
<rect x="637.7" y="199.3" width="101.3" height="5.7" fill="#8b8d8d" stroke="#5e5e5e" stroke-width="0.5"/>
<rect x="789.2" y="199.3" width="101.3" height="5.7" fill="#8b8d8d" stroke="#5e5e5e" stroke-width="0.5"/>
<rect x="940.7" y="199.3" width="101.3" height="5.7" fill="#8b8d8d" stroke="#5e5e5e" stroke-width="0.5"/>
<rect x="1092.2" y="199.3" width="101.55" height="5.7" fill="#8b8d8d" stroke="#5e5e5e" stroke-width="0.5"/>
<rect x="1243.95" y="199.3" width="97.8" height="5.7" fill="#8b8d8d" stroke="#5e5e5e" stroke-width="0.5"/>
<rect x="1391.95" y="199.3" width="98.8" height="5.7" fill="#8b8d8d" stroke="#5e5e5e" stroke-width="0.5"/>
<rect x="1540.95" y="199.3" width="100.8" height="5.7" fill="#8b8d8d" stroke="#5e5e5e" stroke-width="0.5"/>
<rect x="1691.95" y="199.3" width="52.45" height="5.7" fill="#8b8d8d" stroke="#5e5e5e" stroke-width="0.5"/>
<rect x="233.2" y="947.6" width="202.8" height="5.6" fill="#8b8d8d" stroke="#5e5e5e" stroke-width="0.5"/>
<rect x="486.2" y="947.6" width="101.5" height="5.6" fill="#8b8d8d" stroke="#5e5e5e" stroke-width="0.5"/>
<rect x="637.9" y="947.6" width="101.1" height="5.6" fill="#8b8d8d" stroke="#5e5e5e" stroke-width="0.5"/>
<rect x="789.2" y="947.6" width="103.2" height="5.6" fill="#8b8d8d" stroke="#5e5e5e" stroke-width="0.5"/>
<rect x="942.6" y="947.6" width="246.7" height="5.6" fill="#8b8d8d" stroke="#5e5e5e" stroke-width="0.5"/>
<rect x="1239.5" y="947.6" width="96.5" height="5.6" fill="#8b8d8d" stroke="#5e5e5e" stroke-width="0.5"/>
<rect x="1386.2" y="947.6" width="107.1" height="5.6" fill="#8b8d8d" stroke="#5e5e5e" stroke-width="0.5"/>
<rect x="1543.5" y="947.6" width="100.9" height="5.6" fill="#8b8d8d" stroke="#5e5e5e" stroke-width="0.5"/>
<rect x="1694.6" y="947.6" width="49.8" height="5.6" fill="#8b8d8d" stroke="#5e5e5e" stroke-width="0.5"/>
<rect x="233.2" y="205" width="5.7" height="293" fill="#8b8d8d" stroke="#5e5e5e" stroke-width="0.5"/>
<rect x="233.2" y="547.5" width="5.7" height="315.4" fill="#8b8d8d" stroke="#5e5e5e" stroke-width="0.5"/>
<rect x="233.2" y="915.2" width="5.7" height="32.4" fill="#8b8d8d" stroke="#5e5e5e" stroke-width="0.5"/>
<rect x="1738.2" y="205" width="6.2" height="291.8" fill="#8b8d8d" stroke="#5e5e5e" stroke-width="0.5"/>
<rect x="1738.2" y="548.3" width="6.2" height="399.3" fill="#8b8d8d" stroke="#5e5e5e" stroke-width="0.5"/>
<rect x="238.9" y="473.3" width="841.1" height="4.2" fill="#8b8d8d" stroke="#5e5e5e" stroke-width="0.5"/>
<rect x="1132.5" y="473.3" width="83.7" height="4.2" fill="#8b8d8d" stroke="#5e5e5e" stroke-width="0.5"/>
<rect x="1267" y="473.3" width="105.5" height="4.2" fill="#8b8d8d" stroke="#5e5e5e" stroke-width="0.5"/>
<rect x="1424.2" y="473.3" width="51.8" height="4.2" fill="#8b8d8d" stroke="#5e5e5e" stroke-width="0.5"/>
<rect x="1527.5" y="473.3" width="210.7" height="4.2" fill="#8b8d8d" stroke="#5e5e5e" stroke-width="0.5"/>
<rect x="238.9" y="568.3" width="362.3" height="3.5" fill="#8b8d8d" stroke="#5e5e5e" stroke-width="0.5"/>
<rect x="653.2" y="568.3" width="156.8" height="3.5" fill="#8b8d8d" stroke="#5e5e5e" stroke-width="0.5"/>
<rect x="862.5" y="568.3" width="220" height="3.5" fill="#8b8d8d" stroke="#5e5e5e" stroke-width="0.5"/>
<rect x="1136" y="568.3" width="20" height="3.5" fill="#8b8d8d" stroke="#5e5e5e" stroke-width="0.5"/>
<rect x="1208.8" y="568.3" width="95" height="3.5" fill="#8b8d8d" stroke="#5e5e5e" stroke-width="0.5"/>
<rect x="1355" y="568.3" width="100.5" height="3.5" fill="#8b8d8d" stroke="#5e5e5e" stroke-width="0.5"/>
<rect x="1507" y="568.3" width="86.8" height="3.5" fill="#8b8d8d" stroke="#5e5e5e" stroke-width="0.5"/>
<rect x="1646.2" y="568.3" width="92" height="3.5" fill="#8b8d8d" stroke="#5e5e5e" stroke-width="0.5"/>
<rect x="324.3" y="477.5" width="4" height="20.5" fill="#8b8d8d" stroke="#5e5e5e" stroke-width="0.5"/>
<rect x="324.3" y="547.5" width="4" height="20.8" fill="#8b8d8d" stroke="#5e5e5e" stroke-width="0.5"/>
<rect x="1648.8" y="477.5" width="3.8" height="20" fill="#8b8d8d" stroke="#5e5e5e" stroke-width="0.5"/>
<rect x="1648.8" y="548.8" width="3.8" height="19.5" fill="#8b8d8d" stroke="#5e5e5e" stroke-width="0.5"/>
<rect x="986.3" y="477.5" width="4" height="20" fill="#8b8d8d" stroke="#5e5e5e" stroke-width="0.5"/>
<rect x="986.3" y="548.8" width="4" height="398.8" fill="#8b8d8d" stroke="#5e5e5e" stroke-width="0.5"/>
<rect x="383.8" y="571.8" width="3.8" height="375.8" fill="#8b8d8d" stroke="#5e5e5e" stroke-width="0.5"/>
<rect x="683.8" y="571.8" width="3.8" height="375.8" fill="#8b8d8d" stroke="#5e5e5e" stroke-width="0.5"/>
<rect x="1074" y="571.8" width="4" height="50.9" fill="#8b8d8d" stroke="#5e5e5e" stroke-width="0.5"/>
<rect x="1074" y="673.7" width="4" height="50.3" fill="#8b8d8d" stroke="#5e5e5e" stroke-width="0.5"/>
<rect x="1074" y="774.4" width="4" height="22.2" fill="#8b8d8d" stroke="#5e5e5e" stroke-width="0.5"/>
<rect x="990.3" y="687.3" width="83.7" height="3.9" fill="#8b8d8d" stroke="#5e5e5e" stroke-width="0.5"/>
<rect x="990.3" y="796.6" width="95.7" height="3.7" fill="#8b8d8d" stroke="#5e5e5e" stroke-width="0.5"/>
<rect x="1141" y="205" width="4" height="268.3" fill="#8b8d8d" stroke="#5e5e5e" stroke-width="0.5"/>
<rect x="1141" y="571.8" width="4" height="375.8" fill="#8b8d8d" stroke="#5e5e5e" stroke-width="0.5"/>
<rect x="1286.6" y="205" width="3.7" height="268.3" fill="#8b8d8d" stroke="#5e5e5e" stroke-width="0.5"/>
<rect x="1286.6" y="571.8" width="3.7" height="375.8" fill="#8b8d8d" stroke="#5e5e5e" stroke-width="0.5"/>
<rect x="1438" y="205" width="4" height="268.3" fill="#8b8d8d" stroke="#5e5e5e" stroke-width="0.5"/>
<rect x="1438" y="571.8" width="4" height="375.8" fill="#8b8d8d" stroke="#5e5e5e" stroke-width="0.5"/>
<rect x="1589.2" y="571.8" width="3.8" height="375.8" fill="#8b8d8d" stroke="#5e5e5e" stroke-width="0.5"/>
<rect x="238.9" y="827.3" width="17.8" height="3.5" fill="#8b8d8d" stroke="#5e5e5e" stroke-width="0.5"/>
<rect x="308" y="827.3" width="75.8" height="3.5" fill="#8b8d8d" stroke="#5e5e5e" stroke-width="0.5"/>
<line x1="385.75" y1="571.8" x2="385.75" y2="947.6" stroke="#5e5e5e" stroke-width="0.9" stroke-dasharray="9.5 8.5"/>
<line x1="1142.8" y1="205" x2="1142.8" y2="473.3" stroke="#5e5e5e" stroke-width="0.9" stroke-dasharray="9.5 8.5"/>
<line x1="1142.8" y1="571.8" x2="1142.8" y2="947.6" stroke="#5e5e5e" stroke-width="0.9" stroke-dasharray="9.5 8.5"/>
<line x1="1288.4" y1="205" x2="1288.4" y2="473.3" stroke="#5e5e5e" stroke-width="0.9" stroke-dasharray="9.5 8.5"/>
<line x1="1288.4" y1="571.8" x2="1288.4" y2="947.6" stroke="#5e5e5e" stroke-width="0.9" stroke-dasharray="9.5 8.5"/>
<line x1="1440" y1="571.8" x2="1440" y2="947.6" stroke="#5e5e5e" stroke-width="0.9" stroke-dasharray="9.5 8.5"/>
<line x1="1591.25" y1="571.8" x2="1591.25" y2="947.6" stroke="#5e5e5e" stroke-width="0.9" stroke-dasharray="9.5 8.5"/>
<rect x="285" y="199.3" width="50.2" height="5.7" fill="#ffffff" stroke="#6a6a6a" stroke-width="0.6"/>
<line x1="288.5" y1="202.55" x2="331.7" y2="202.55" stroke="#8a8a8a" stroke-width="0.6"/>
<line x1="288.5" y1="200.65" x2="288.5" y2="205" stroke="#8a8a8a" stroke-width="0.6"/>
<line x1="331.7" y1="200.65" x2="331.7" y2="205" stroke="#8a8a8a" stroke-width="0.6"/>
<rect x="436.75" y="199.3" width="50.2" height="5.7" fill="#ffffff" stroke="#6a6a6a" stroke-width="0.6"/>
<line x1="440.25" y1="202.55" x2="483.45" y2="202.55" stroke="#8a8a8a" stroke-width="0.6"/>
<line x1="440.25" y1="200.65" x2="440.25" y2="205" stroke="#8a8a8a" stroke-width="0.6"/>
<line x1="483.45" y1="200.65" x2="483.45" y2="205" stroke="#8a8a8a" stroke-width="0.6"/>
<rect x="587.5" y="199.3" width="50.2" height="5.7" fill="#ffffff" stroke="#6a6a6a" stroke-width="0.6"/>
<line x1="591" y1="202.55" x2="634.2" y2="202.55" stroke="#8a8a8a" stroke-width="0.6"/>
<line x1="591" y1="200.65" x2="591" y2="205" stroke="#8a8a8a" stroke-width="0.6"/>
<line x1="634.2" y1="200.65" x2="634.2" y2="205" stroke="#8a8a8a" stroke-width="0.6"/>
<rect x="739" y="199.3" width="50.2" height="5.7" fill="#ffffff" stroke="#6a6a6a" stroke-width="0.6"/>
<line x1="742.5" y1="202.55" x2="785.7" y2="202.55" stroke="#8a8a8a" stroke-width="0.6"/>
<line x1="742.5" y1="200.65" x2="742.5" y2="205" stroke="#8a8a8a" stroke-width="0.6"/>
<line x1="785.7" y1="200.65" x2="785.7" y2="205" stroke="#8a8a8a" stroke-width="0.6"/>
<rect x="890.5" y="199.3" width="50.2" height="5.7" fill="#ffffff" stroke="#6a6a6a" stroke-width="0.6"/>
<line x1="894" y1="202.55" x2="937.2" y2="202.55" stroke="#8a8a8a" stroke-width="0.6"/>
<line x1="894" y1="200.65" x2="894" y2="205" stroke="#8a8a8a" stroke-width="0.6"/>
<line x1="937.2" y1="200.65" x2="937.2" y2="205" stroke="#8a8a8a" stroke-width="0.6"/>
<rect x="1042" y="199.3" width="50.2" height="5.7" fill="#ffffff" stroke="#6a6a6a" stroke-width="0.6"/>
<line x1="1045.5" y1="202.55" x2="1088.7" y2="202.55" stroke="#8a8a8a" stroke-width="0.6"/>
<line x1="1045.5" y1="200.65" x2="1045.5" y2="205" stroke="#8a8a8a" stroke-width="0.6"/>
<line x1="1088.7" y1="200.65" x2="1088.7" y2="205" stroke="#8a8a8a" stroke-width="0.6"/>
<rect x="1193.75" y="199.3" width="50.2" height="5.7" fill="#ffffff" stroke="#6a6a6a" stroke-width="0.6"/>
<line x1="1197.25" y1="202.55" x2="1240.45" y2="202.55" stroke="#8a8a8a" stroke-width="0.6"/>
<line x1="1197.25" y1="200.65" x2="1197.25" y2="205" stroke="#8a8a8a" stroke-width="0.6"/>
<line x1="1240.45" y1="200.65" x2="1240.45" y2="205" stroke="#8a8a8a" stroke-width="0.6"/>
<rect x="1341.75" y="199.3" width="50.2" height="5.7" fill="#ffffff" stroke="#6a6a6a" stroke-width="0.6"/>
<line x1="1345.25" y1="202.55" x2="1388.45" y2="202.55" stroke="#8a8a8a" stroke-width="0.6"/>
<line x1="1345.25" y1="200.65" x2="1345.25" y2="205" stroke="#8a8a8a" stroke-width="0.6"/>
<line x1="1388.45" y1="200.65" x2="1388.45" y2="205" stroke="#8a8a8a" stroke-width="0.6"/>
<rect x="1490.75" y="199.3" width="50.2" height="5.7" fill="#ffffff" stroke="#6a6a6a" stroke-width="0.6"/>
<line x1="1494.25" y1="202.55" x2="1537.45" y2="202.55" stroke="#8a8a8a" stroke-width="0.6"/>
<line x1="1494.25" y1="200.65" x2="1494.25" y2="205" stroke="#8a8a8a" stroke-width="0.6"/>
<line x1="1537.45" y1="200.65" x2="1537.45" y2="205" stroke="#8a8a8a" stroke-width="0.6"/>
<rect x="1641.75" y="199.3" width="50.2" height="5.7" fill="#ffffff" stroke="#6a6a6a" stroke-width="0.6"/>
<line x1="1645.25" y1="202.55" x2="1688.45" y2="202.55" stroke="#8a8a8a" stroke-width="0.6"/>
<line x1="1645.25" y1="200.65" x2="1645.25" y2="205" stroke="#8a8a8a" stroke-width="0.6"/>
<line x1="1688.45" y1="200.65" x2="1688.45" y2="205" stroke="#8a8a8a" stroke-width="0.6"/>
<rect x="436" y="947.6" width="50.2" height="5.6" fill="#ffffff" stroke="#6a6a6a" stroke-width="0.6"/>
<line x1="439.5" y1="950.8" x2="482.7" y2="950.8" stroke="#8a8a8a" stroke-width="0.6"/>
<line x1="439.5" y1="948.9" x2="439.5" y2="953.2" stroke="#8a8a8a" stroke-width="0.6"/>
<line x1="482.7" y1="948.9" x2="482.7" y2="953.2" stroke="#8a8a8a" stroke-width="0.6"/>
<rect x="587.7" y="947.6" width="50.2" height="5.6" fill="#ffffff" stroke="#6a6a6a" stroke-width="0.6"/>
<line x1="591.2" y1="950.8" x2="634.4" y2="950.8" stroke="#8a8a8a" stroke-width="0.6"/>
<line x1="591.2" y1="948.9" x2="591.2" y2="953.2" stroke="#8a8a8a" stroke-width="0.6"/>
<line x1="634.4" y1="948.9" x2="634.4" y2="953.2" stroke="#8a8a8a" stroke-width="0.6"/>
<rect x="739" y="947.6" width="50.2" height="5.6" fill="#ffffff" stroke="#6a6a6a" stroke-width="0.6"/>
<line x1="742.5" y1="950.8" x2="785.7" y2="950.8" stroke="#8a8a8a" stroke-width="0.6"/>
<line x1="742.5" y1="948.9" x2="742.5" y2="953.2" stroke="#8a8a8a" stroke-width="0.6"/>
<line x1="785.7" y1="948.9" x2="785.7" y2="953.2" stroke="#8a8a8a" stroke-width="0.6"/>
<rect x="892.4" y="947.6" width="50.2" height="5.6" fill="#ffffff" stroke="#6a6a6a" stroke-width="0.6"/>
<line x1="895.9" y1="950.8" x2="939.1" y2="950.8" stroke="#8a8a8a" stroke-width="0.6"/>
<line x1="895.9" y1="948.9" x2="895.9" y2="953.2" stroke="#8a8a8a" stroke-width="0.6"/>
<line x1="939.1" y1="948.9" x2="939.1" y2="953.2" stroke="#8a8a8a" stroke-width="0.6"/>
<rect x="1189.3" y="947.6" width="50.2" height="5.6" fill="#ffffff" stroke="#6a6a6a" stroke-width="0.6"/>
<line x1="1192.8" y1="950.8" x2="1236" y2="950.8" stroke="#8a8a8a" stroke-width="0.6"/>
<line x1="1192.8" y1="948.9" x2="1192.8" y2="953.2" stroke="#8a8a8a" stroke-width="0.6"/>
<line x1="1236" y1="948.9" x2="1236" y2="953.2" stroke="#8a8a8a" stroke-width="0.6"/>
<rect x="1336" y="947.6" width="50.2" height="5.6" fill="#ffffff" stroke="#6a6a6a" stroke-width="0.6"/>
<line x1="1339.5" y1="950.8" x2="1382.7" y2="950.8" stroke="#8a8a8a" stroke-width="0.6"/>
<line x1="1339.5" y1="948.9" x2="1339.5" y2="953.2" stroke="#8a8a8a" stroke-width="0.6"/>
<line x1="1382.7" y1="948.9" x2="1382.7" y2="953.2" stroke="#8a8a8a" stroke-width="0.6"/>
<rect x="1493.3" y="947.6" width="50.2" height="5.6" fill="#ffffff" stroke="#6a6a6a" stroke-width="0.6"/>
<line x1="1496.8" y1="950.8" x2="1540" y2="950.8" stroke="#8a8a8a" stroke-width="0.6"/>
<line x1="1496.8" y1="948.9" x2="1496.8" y2="953.2" stroke="#8a8a8a" stroke-width="0.6"/>
<line x1="1540" y1="948.9" x2="1540" y2="953.2" stroke="#8a8a8a" stroke-width="0.6"/>
<rect x="1644.4" y="947.6" width="50.2" height="5.6" fill="#ffffff" stroke="#6a6a6a" stroke-width="0.6"/>
<line x1="1647.9" y1="950.8" x2="1691.1" y2="950.8" stroke="#8a8a8a" stroke-width="0.6"/>
<line x1="1647.9" y1="948.9" x2="1647.9" y2="953.2" stroke="#8a8a8a" stroke-width="0.6"/>
<line x1="1691.1" y1="948.9" x2="1691.1" y2="953.2" stroke="#8a8a8a" stroke-width="0.6"/>
<line x1="233.2" y1="547.5" x2="198.2" y2="512.5" stroke="#6e6e6e" stroke-width="0.7"/>
<path d="M 198.2 512.5 A 49.5 49.5 0 0 1 233.2 498" fill="none" stroke="#6e6e6e" stroke-width="0.7"/>
<line x1="1744.4" y1="548.3" x2="1780.45" y2="511.52" stroke="#6e6e6e" stroke-width="0.7"/>
<path d="M 1780.45 511.52 A 51.5 51.5 0 0 0 1744.4 496.8" fill="none" stroke="#6e6e6e" stroke-width="0.7"/>
<line x1="236" y1="915.2" x2="198.57" y2="878.67" stroke="#3a3a3a" stroke-width="0.8"/>
<path d="M 198.57 878.67 A 52.3 52.3 0 0 1 236 862.9" fill="none" stroke="#3a3a3a" stroke-width="0.8"/>
<line x1="326.3" y1="547.5" x2="298.5" y2="506.54" stroke="#3a3a3a" stroke-width="0.8"/>
<path d="M 298.5 506.54 A 49.5 49.5 0 0 1 326.3 498" fill="none" stroke="#3a3a3a" stroke-width="0.8"/>
<line x1="1650.7" y1="548.8" x2="1678.99" y2="506.01" stroke="#3a3a3a" stroke-width="0.8"/>
<path d="M 1678.99 506.01 A 51.3 51.3 0 0 0 1650.7 497.5" fill="none" stroke="#3a3a3a" stroke-width="0.8"/>
<line x1="988.3" y1="548.8" x2="960.01" y2="506.01" stroke="#3a3a3a" stroke-width="0.8"/>
<path d="M 960.01 506.01 A 51.3 51.3 0 0 1 988.3 497.5" fill="none" stroke="#3a3a3a" stroke-width="0.8"/>
<line x1="1132.5" y1="475.4" x2="1088.23" y2="503.63" stroke="#3a3a3a" stroke-width="0.8"/>
<path d="M 1088.23 503.63 A 52.5 52.5 0 0 1 1080 475.4" fill="none" stroke="#3a3a3a" stroke-width="0.8"/>
<line x1="1267" y1="475.4" x2="1224.31" y2="502.94" stroke="#3a3a3a" stroke-width="0.8"/>
<path d="M 1224.31 502.94 A 50.8 50.8 0 0 1 1216.2 475.4" fill="none" stroke="#3a3a3a" stroke-width="0.8"/>
<line x1="1424.2" y1="475.4" x2="1380.85" y2="503.57" stroke="#3a3a3a" stroke-width="0.8"/>
<path d="M 1380.85 503.57 A 51.7 51.7 0 0 1 1372.5 475.4" fill="none" stroke="#3a3a3a" stroke-width="0.8"/>
<line x1="1527.5" y1="475.4" x2="1484.08" y2="503.09" stroke="#3a3a3a" stroke-width="0.8"/>
<path d="M 1484.08 503.09 A 51.5 51.5 0 0 1 1476 475.4" fill="none" stroke="#3a3a3a" stroke-width="0.8"/>
<line x1="601.2" y1="570.05" x2="644.4" y2="541.1" stroke="#3a3a3a" stroke-width="0.8"/>
<path d="M 644.4 541.1 A 52 52 0 0 1 653.2 570.05" fill="none" stroke="#3a3a3a" stroke-width="0.8"/>
<line x1="601.2" y1="570.05" x2="653.2" y2="570.05" stroke="#4a4a4a" stroke-width="1" stroke-dasharray="7 5"/>
<line x1="810" y1="570.05" x2="853.58" y2="540.77" stroke="#3a3a3a" stroke-width="0.8"/>
<path d="M 853.58 540.77 A 52.5 52.5 0 0 1 862.5 570.05" fill="none" stroke="#3a3a3a" stroke-width="0.8"/>
<line x1="810" y1="570.05" x2="862.5" y2="570.05" stroke="#4a4a4a" stroke-width="1" stroke-dasharray="7 5"/>
<line x1="1082.5" y1="570.05" x2="1127.68" y2="541.39" stroke="#3a3a3a" stroke-width="0.8"/>
<path d="M 1127.68 541.39 A 53.5 53.5 0 0 1 1136 570.05" fill="none" stroke="#3a3a3a" stroke-width="0.8"/>
<line x1="1082.5" y1="570.05" x2="1136" y2="570.05" stroke="#4a4a4a" stroke-width="1" stroke-dasharray="7 5"/>
<line x1="1156" y1="570.05" x2="1200.29" y2="541.31" stroke="#3a3a3a" stroke-width="0.8"/>
<path d="M 1200.29 541.31 A 52.8 52.8 0 0 1 1208.8 570.05" fill="none" stroke="#3a3a3a" stroke-width="0.8"/>
<line x1="1156" y1="570.05" x2="1208.8" y2="570.05" stroke="#4a4a4a" stroke-width="1" stroke-dasharray="7 5"/>
<line x1="1303.8" y1="570.05" x2="1346.3" y2="541.5" stroke="#3a3a3a" stroke-width="0.8"/>
<path d="M 1346.3 541.5 A 51.2 51.2 0 0 1 1355 570.05" fill="none" stroke="#3a3a3a" stroke-width="0.8"/>
<line x1="1303.8" y1="570.05" x2="1355" y2="570.05" stroke="#4a4a4a" stroke-width="1" stroke-dasharray="7 5"/>
<line x1="1455.5" y1="570.05" x2="1498.09" y2="541.1" stroke="#3a3a3a" stroke-width="0.8"/>
<path d="M 1498.09 541.1 A 51.5 51.5 0 0 1 1507 570.05" fill="none" stroke="#3a3a3a" stroke-width="0.8"/>
<line x1="1455.5" y1="570.05" x2="1507" y2="570.05" stroke="#4a4a4a" stroke-width="1" stroke-dasharray="7 5"/>
<line x1="1593.8" y1="570.05" x2="1637.67" y2="541.39" stroke="#3a3a3a" stroke-width="0.8"/>
<path d="M 1637.67 541.39 A 52.4 52.4 0 0 1 1646.2 570.05" fill="none" stroke="#3a3a3a" stroke-width="0.8"/>
<line x1="1593.8" y1="570.05" x2="1646.2" y2="570.05" stroke="#4a4a4a" stroke-width="1" stroke-dasharray="7 5"/>
<line x1="256.7" y1="829" x2="299.27" y2="857.62" stroke="#3a3a3a" stroke-width="0.8"/>
<path d="M 299.27 857.62 A 51.3 51.3 0 0 0 308 829" fill="none" stroke="#3a3a3a" stroke-width="0.8"/>
<line x1="1076" y1="622.7" x2="1104.84" y2="664.76" stroke="#3a3a3a" stroke-width="0.8"/>
<path d="M 1104.84 664.76 A 51 51 0 0 1 1076 673.7" fill="none" stroke="#3a3a3a" stroke-width="0.8"/>
<line x1="1076" y1="724" x2="1104.6" y2="765.5" stroke="#3a3a3a" stroke-width="0.8"/>
<path d="M 1104.6 765.5 A 50.4 50.4 0 0 1 1076 774.4" fill="none" stroke="#3a3a3a" stroke-width="0.8"/>
<line x1="1139.3" y1="798.4" x2="1094.76" y2="827.68" stroke="#3a3a3a" stroke-width="0.8"/>
<path d="M 1094.76 827.68 A 53.3 53.3 0 0 1 1086 798.4" fill="none" stroke="#3a3a3a" stroke-width="0.8"/>
<rect x="233.2" y="495.5" width="5.7" height="2.5" fill="#ffffff" stroke="#6a6a6a" stroke-width="0.5"/>
<rect x="233.2" y="547.5" width="5.7" height="2.5" fill="#ffffff" stroke="#6a6a6a" stroke-width="0.5"/>
<rect x="233.2" y="860.4" width="5.7" height="2.5" fill="#ffffff" stroke="#6a6a6a" stroke-width="0.5"/>
<rect x="233.2" y="915.2" width="5.7" height="2.5" fill="#ffffff" stroke="#6a6a6a" stroke-width="0.5"/>
<rect x="1738.2" y="494.3" width="6.2" height="2.5" fill="#ffffff" stroke="#6a6a6a" stroke-width="0.5"/>
<rect x="1738.2" y="548.3" width="6.2" height="2.5" fill="#ffffff" stroke="#6a6a6a" stroke-width="0.5"/>
<rect x="324.3" y="495.5" width="4" height="2.5" fill="#ffffff" stroke="#6a6a6a" stroke-width="0.5"/>
<rect x="324.3" y="547.5" width="4" height="2.5" fill="#ffffff" stroke="#6a6a6a" stroke-width="0.5"/>
<rect x="1648.8" y="495" width="3.8" height="2.5" fill="#ffffff" stroke="#6a6a6a" stroke-width="0.5"/>
<rect x="1648.8" y="548.8" width="3.8" height="2.5" fill="#ffffff" stroke="#6a6a6a" stroke-width="0.5"/>
<rect x="986.3" y="495" width="4" height="2.5" fill="#ffffff" stroke="#6a6a6a" stroke-width="0.5"/>
<rect x="986.3" y="548.8" width="4" height="2.5" fill="#ffffff" stroke="#6a6a6a" stroke-width="0.5"/>
<rect x="1074" y="620.2" width="4" height="2.5" fill="#ffffff" stroke="#6a6a6a" stroke-width="0.5"/>
<rect x="1074" y="673.7" width="4" height="2.5" fill="#ffffff" stroke="#6a6a6a" stroke-width="0.5"/>
<rect x="1074" y="721.5" width="4" height="2.5" fill="#ffffff" stroke="#6a6a6a" stroke-width="0.5"/>
<rect x="1074" y="774.4" width="4" height="2.5" fill="#ffffff" stroke="#6a6a6a" stroke-width="0.5"/>
<rect x="254.2" y="827.3" width="2.5" height="3.5" fill="#ffffff" stroke="#6a6a6a" stroke-width="0.5"/>
<rect x="308" y="827.3" width="2.5" height="3.5" fill="#ffffff" stroke="#6a6a6a" stroke-width="0.5"/>
<rect x="1083.5" y="796.6" width="2.5" height="3.7" fill="#ffffff" stroke="#6a6a6a" stroke-width="0.5"/>
<rect x="1139.3" y="796.6" width="1.7" height="3.7" fill="#ffffff" stroke="#6a6a6a" stroke-width="0.5"/>
<rect x="1077.5" y="473.3" width="2.5" height="4.2" fill="#ffffff" stroke="#6a6a6a" stroke-width="0.5"/>
<rect x="1132.5" y="473.3" width="2.5" height="4.2" fill="#ffffff" stroke="#6a6a6a" stroke-width="0.5"/>
<rect x="1213.7" y="473.3" width="2.5" height="4.2" fill="#ffffff" stroke="#6a6a6a" stroke-width="0.5"/>
<rect x="1267" y="473.3" width="2.5" height="4.2" fill="#ffffff" stroke="#6a6a6a" stroke-width="0.5"/>
<rect x="1370" y="473.3" width="2.5" height="4.2" fill="#ffffff" stroke="#6a6a6a" stroke-width="0.5"/>
<rect x="1424.2" y="473.3" width="2.5" height="4.2" fill="#ffffff" stroke="#6a6a6a" stroke-width="0.5"/>
<rect x="1473.5" y="473.3" width="2.5" height="4.2" fill="#ffffff" stroke="#6a6a6a" stroke-width="0.5"/>
<rect x="1527.5" y="473.3" width="2.5" height="4.2" fill="#ffffff" stroke="#6a6a6a" stroke-width="0.5"/>
<rect x="598.7" y="568.3" width="2.5" height="3.5" fill="#ffffff" stroke="#6a6a6a" stroke-width="0.5"/>
<rect x="653.2" y="568.3" width="2.5" height="3.5" fill="#ffffff" stroke="#6a6a6a" stroke-width="0.5"/>
<rect x="807.5" y="568.3" width="2.5" height="3.5" fill="#ffffff" stroke="#6a6a6a" stroke-width="0.5"/>
<rect x="862.5" y="568.3" width="2.5" height="3.5" fill="#ffffff" stroke="#6a6a6a" stroke-width="0.5"/>
<rect x="1080" y="568.3" width="2.5" height="3.5" fill="#ffffff" stroke="#6a6a6a" stroke-width="0.5"/>
<rect x="1136" y="568.3" width="2.5" height="3.5" fill="#ffffff" stroke="#6a6a6a" stroke-width="0.5"/>
<rect x="1153.5" y="568.3" width="2.5" height="3.5" fill="#ffffff" stroke="#6a6a6a" stroke-width="0.5"/>
<rect x="1208.8" y="568.3" width="2.5" height="3.5" fill="#ffffff" stroke="#6a6a6a" stroke-width="0.5"/>
<rect x="1301.3" y="568.3" width="2.5" height="3.5" fill="#ffffff" stroke="#6a6a6a" stroke-width="0.5"/>
<rect x="1355" y="568.3" width="2.5" height="3.5" fill="#ffffff" stroke="#6a6a6a" stroke-width="0.5"/>
<rect x="1453" y="568.3" width="2.5" height="3.5" fill="#ffffff" stroke="#6a6a6a" stroke-width="0.5"/>
<rect x="1507" y="568.3" width="2.5" height="3.5" fill="#ffffff" stroke="#6a6a6a" stroke-width="0.5"/>
<rect x="1591.3" y="568.3" width="2.5" height="3.5" fill="#ffffff" stroke="#6a6a6a" stroke-width="0.5"/>
<rect x="1646.2" y="568.3" width="2.5" height="3.5" fill="#ffffff" stroke="#6a6a6a" stroke-width="0.5"/>
</g>
<g class="wm">
<polygon points="770.3,487.8 799.1,461.6 988.3,461.6 988.3,487.8" fill="#c6e6f5" stroke="none" stroke-width="0.6"/>
<rect x="770.3" y="487.8" width="216.7" height="147.5" fill="#f8c9d2" stroke="none" stroke-width="0.6"/>
<polygon points="988.3,461.2 1016,434.3 1230.8,434.3 1230.8,577.5 1204.6,609.2 1204.6,461.2" fill="#c6e6f5" stroke="none" stroke-width="0.6"/>
<polygon points="987,609.2 1014.5,609.2 987,636" fill="#c6e6f5" stroke="none" stroke-width="0.6"/>
<rect x="987" y="461.2" width="217.6" height="148" fill="#cbd9ea" stroke="none" stroke-width="0.6"/>
<polygon points="796.7,524 811.8,524 832,573 852.2,524 867.3,524 836.5,600.3 827.7,600.3" fill="#ffffff" stroke="none" stroke-width="0.6"/>
<path fill-rule="evenodd" fill="#ffffff" d="M868.2 600.3 L899.3 524 L911.3 524 L942.4 600.3 L928.2 600.3 L921.3 583.9 L889.3 583.9 L882.4 600.3 Z M905.3 545.7 L916.8 573.2 L893.8 573.2 Z"/>
<polygon points="957.3,599 957.3,513 970.5,513 1003.1,557 1003.1,496.1 1018.1,496.1 1018.1,580.9 1005,580.9 972.1,538 972.1,599" fill="#ffffff" stroke="none" stroke-width="0.6"/>
<path fill-rule="evenodd" fill="#ffffff" d="M1040.8 496 L1066 496 C1088 496 1102.6 512 1102.6 534.2 C1102.6 556.5 1088 572.5 1066 572.5 L1040.8 572.5 Z M1055.7 509 L1064.5 509 C1079 509 1088 519 1088 534.2 C1088 549.5 1079 559.5 1064.5 559.5 L1055.7 559.5 Z"/>
<path fill-rule="evenodd" fill="#ffffff" d="M1111.4 572.5 L1139.9 496 L1152.5 496 L1184.4 572.5 L1170.2 572.5 L1164.7 557 L1133.6 557 L1127.6 572.5 Z M1147.8 519.6 L1157.7 544.9 L1138.0 544.9 Z"/>
</g>
</svg>
</body></html>
